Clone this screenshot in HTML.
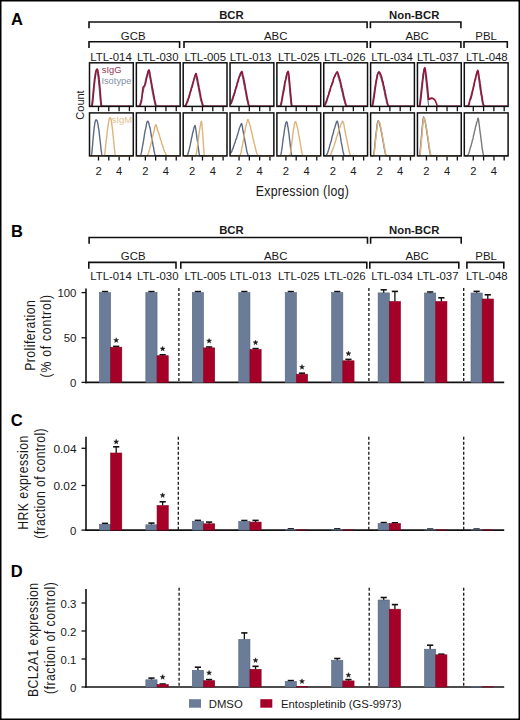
<!DOCTYPE html>
<html><head><meta charset="utf-8"><title>Figure</title>
<style>
html,body{margin:0;padding:0;background:#fff;}
body{width:520px;height:720px;overflow:hidden;}
svg{display:block;font-family:"Liberation Sans", sans-serif;}
</style></head><body>
<svg width="520" height="720" viewBox="0 0 520 720">
<rect width="520" height="720" fill="#fff"/>
<text x="11" y="25" font-size="16.5" text-anchor="start" font-weight="bold" fill="#000" >A</text>
<path d="M89 28.2V22H367.1V28.2" fill="none" stroke="#111" stroke-width="1.6"/>
<path d="M370.4 28.2V22H460.9V28.2" fill="none" stroke="#111" stroke-width="1.6"/>
<text x="231.4" y="18.7" font-size="11.3" text-anchor="middle" font-weight="bold" fill="#1a1a1a" >BCR</text>
<text x="414.2" y="18.7" font-size="11.3" text-anchor="middle" font-weight="bold" fill="#1a1a1a" >Non-BCR</text>
<path d="M89 48.1V41.8H179.6V48.1" fill="none" stroke="#111" stroke-width="1.6"/>
<text x="133.2" y="39.6" font-size="11.4" text-anchor="middle" font-weight="normal" fill="#1a1a1a" >GCB</text>
<path d="M184 48.1V41.8H367.1V48.1" fill="none" stroke="#111" stroke-width="1.6"/>
<text x="275.7" y="39.6" font-size="11.4" text-anchor="middle" font-weight="normal" fill="#1a1a1a" >ABC</text>
<path d="M370.4 48.1V41.8H460.9V48.1" fill="none" stroke="#111" stroke-width="1.6"/>
<text x="417.1" y="39.6" font-size="11.4" text-anchor="middle" font-weight="normal" fill="#1a1a1a" >ABC</text>
<path d="M464 48.1V41.8H507.3V48.1" fill="none" stroke="#111" stroke-width="1.6"/>
<text x="486.1" y="39.6" font-size="11.4" text-anchor="middle" font-weight="normal" fill="#1a1a1a" >PBL</text>
<text x="111" y="60.7" font-size="11.4" text-anchor="middle" font-weight="normal" fill="#1a1a1a" >LTL-014</text>
<text x="157.7" y="60.7" font-size="11.4" text-anchor="middle" font-weight="normal" fill="#1a1a1a" >LTL-030</text>
<text x="205.2" y="60.7" font-size="11.4" text-anchor="middle" font-weight="normal" fill="#1a1a1a" >LTL-005</text>
<text x="250.6" y="60.7" font-size="11.4" text-anchor="middle" font-weight="normal" fill="#1a1a1a" >LTL-013</text>
<text x="298.8" y="60.7" font-size="11.4" text-anchor="middle" font-weight="normal" fill="#1a1a1a" >LTL-025</text>
<text x="344.8" y="60.7" font-size="11.4" text-anchor="middle" font-weight="normal" fill="#1a1a1a" >LTL-026</text>
<text x="392" y="60.7" font-size="11.4" text-anchor="middle" font-weight="normal" fill="#1a1a1a" >LTL-034</text>
<text x="437.7" y="60.7" font-size="11.4" text-anchor="middle" font-weight="normal" fill="#1a1a1a" >LTL-037</text>
<text x="486.9" y="60.7" font-size="11.4" text-anchor="middle" font-weight="normal" fill="#1a1a1a" >LTL-048</text>
<line x1="98.5" y1="106.4" x2="98.5" y2="111.2" stroke="#111" stroke-width="1.3" />
<line x1="98.5" y1="155.9" x2="98.5" y2="160.5" stroke="#111" stroke-width="1.3" />
<line x1="108.8" y1="106.4" x2="108.8" y2="111.2" stroke="#111" stroke-width="1.3" />
<line x1="108.8" y1="155.9" x2="108.8" y2="160.5" stroke="#111" stroke-width="1.3" />
<line x1="119.1" y1="106.4" x2="119.1" y2="111.2" stroke="#111" stroke-width="1.3" />
<line x1="119.1" y1="155.9" x2="119.1" y2="160.5" stroke="#111" stroke-width="1.3" />
<line x1="129.4" y1="106.4" x2="129.4" y2="111.2" stroke="#111" stroke-width="1.3" />
<line x1="129.4" y1="155.9" x2="129.4" y2="160.5" stroke="#111" stroke-width="1.3" />
<polyline points="90.3,155.7 90.68,155.7 91.07,155.7 91.45,155.7 91.83,153.17 92.22,148.9 92.6,145 92.99,139.78 93.37,136.08 93.75,131.89 94.14,127.96 94.52,125.55 94.9,122.52 95.29,121.26 95.67,120.23 96.05,119.8 96.44,119.96 96.82,120.54 97.21,120.97 97.59,122.39 97.97,124.6 98.36,127.26 98.74,128.83 99.12,131.75 99.51,135.33 99.89,139.02 100.27,141.96 100.66,145.22 101.04,149.28 101.43,151.79 101.81,154.72 102.19,155.7 102.58,155.7 102.96,155.7 103.34,155.7 103.73,155.7 104.11,155.7 104.49,155.7 104.88,155.7 105.26,155.7 105.65,155.7 106.03,155.7 106.41,155.7 106.8,155.7 107.18,155.7 107.56,155.7 107.95,155.7 108.33,155.7 108.71,155.7 109.1,155.7 109.48,155.7 109.87,155.7 110.25,155.7 110.63,155.7 111.02,155.7 111.4,155.7 111.78,155.7 112.17,155.7 112.55,155.7 112.93,155.7 113.32,155.7 113.7,155.7 114.09,155.7 114.47,155.7 114.85,155.7 115.24,155.7 115.62,155.7 116,155.7 116.39,155.7 116.77,155.7 117.15,155.7 117.54,155.7 117.92,155.7 118.31,155.7 118.69,155.7 119.07,155.7 119.46,155.7 119.84,155.7 120.22,155.7 120.61,155.7 120.99,155.7 121.37,155.7 121.76,155.7 122.14,155.7 122.53,155.7 122.91,155.7 123.29,155.7 123.68,155.7 124.06,155.7 124.44,155.7 124.83,155.7 125.21,155.7 125.59,155.7 125.98,155.7 126.36,155.7 126.75,155.7 127.13,155.7 127.51,155.7 127.9,155.7 128.28,155.7 128.66,155.7 129.05,155.7 129.43,155.7 129.81,155.7 130.2,155.7 130.58,155.7 130.97,155.7 131.35,155.7 131.73,155.7 132.12,155.7 132.5,155.7" fill="none" stroke="#5d6a86" stroke-width="1.4" stroke-linejoin="round"/>
<polyline points="90.3,155.7 90.68,155.7 91.07,155.7 91.45,155.7 91.83,155.7 92.22,155.7 92.6,155.7 92.99,155.7 93.37,155.7 93.75,155.7 94.14,155.7 94.52,155.7 94.9,155.7 95.29,155.7 95.67,155.7 96.05,155.7 96.44,155.7 96.82,155.7 97.21,155.7 97.59,155.7 97.97,155.7 98.36,155.7 98.74,155.7 99.12,155.7 99.51,155.7 99.89,155.7 100.27,155.7 100.66,155.7 101.04,155.7 101.43,155.7 101.81,155.7 102.19,155.7 102.58,155.7 102.96,155.7 103.34,155.7 103.73,155.7 104.11,155.7 104.49,155.34 104.88,153.12 105.26,149.73 105.65,146.03 106.03,142.41 106.41,139.06 106.8,136.21 107.18,132.01 107.56,129.38 107.95,126.56 108.33,123.64 108.71,121.66 109.1,119.24 109.48,118.47 109.87,117.67 110.25,117.59 110.63,118.36 111.02,119.19 111.4,121.34 111.78,124.39 112.17,126.91 112.55,129.98 112.93,133.84 113.32,137.4 113.7,141.06 114.09,145.59 114.47,149.17 114.85,152.32 115.24,155.15 115.62,155.7 116,155.7 116.39,155.7 116.77,155.7 117.15,155.7 117.54,155.7 117.92,155.7 118.31,155.7 118.69,155.7 119.07,155.7 119.46,155.7 119.84,155.7 120.22,155.7 120.61,155.7 120.99,155.7 121.37,155.7 121.76,155.7 122.14,155.7 122.53,155.7 122.91,155.7 123.29,155.7 123.68,155.7 124.06,155.7 124.44,155.7 124.83,155.7 125.21,155.7 125.59,155.7 125.98,155.7 126.36,155.7 126.75,155.7 127.13,155.7 127.51,155.7 127.9,155.7 128.28,155.7 128.66,155.7 129.05,155.7 129.43,155.7 129.81,155.7 130.2,155.7 130.58,155.7 130.97,155.7 131.35,155.7 131.73,155.7 132.12,155.7 132.5,155.7" fill="none" stroke="#dfb47c" stroke-width="1.4" stroke-linejoin="round"/>
<polyline points="90.3,106.3 90.68,106.3 91.07,106.3 91.45,105.88 91.83,103.11 92.22,99.48 92.6,96.01 92.99,91.82 93.37,87.34 93.75,84.54 94.14,80.03 94.52,77.4 94.9,75.25 95.29,72.37 95.67,71.26 96.05,70.31 96.44,70.01 96.82,70.56 97.21,71.31 97.59,74.19 97.97,77.02 98.36,80.05 98.74,84.2 99.12,87.62 99.51,92.52 99.89,96.87 100.27,101.13 100.66,104.78 101.04,106.3 101.43,106.3 101.81,106.3 102.19,106.3 102.58,106.3 102.96,106.3 103.34,106.3 103.73,106.3 104.11,106.3 104.49,106.3 104.88,106.3 105.26,106.3 105.65,106.3 106.03,106.3 106.41,106.3 106.8,106.3 107.18,106.3 107.56,106.3 107.95,106.3 108.33,106.3 108.71,106.3 109.1,106.3 109.48,106.3 109.87,106.3 110.25,106.3 110.63,106.3 111.02,106.3 111.4,106.3 111.78,106.3 112.17,106.3 112.55,106.3 112.93,106.3 113.32,106.3 113.7,106.3 114.09,106.3 114.47,106.3 114.85,106.3 115.24,106.3 115.62,106.3 116,106.3 116.39,106.3 116.77,106.3 117.15,106.3 117.54,106.3 117.92,106.3 118.31,106.3 118.69,106.3 119.07,106.3 119.46,106.3 119.84,106.3 120.22,106.3 120.61,106.3 120.99,106.3 121.37,106.3 121.76,106.3 122.14,106.3 122.53,106.3 122.91,106.3 123.29,106.3 123.68,106.3 124.06,106.3 124.44,106.3 124.83,106.3 125.21,106.3 125.59,106.3 125.98,106.3 126.36,106.3 126.75,106.3 127.13,106.3 127.51,106.3 127.9,106.3 128.28,106.3 128.66,106.3 129.05,106.3 129.43,106.3 129.81,106.3 130.2,106.3 130.58,106.3 130.97,106.3 131.35,106.3 131.73,106.3 132.12,106.3 132.5,106.3" fill="none" stroke="#5d6a86" stroke-width="1.1" stroke-linejoin="round"/>
<polyline points="90.3,106.3 90.68,106.3 91.07,106.3 91.45,106.3 91.83,106.3 92.22,105.47 92.6,102.56 92.99,99.05 93.37,94.47 93.75,90.61 94.14,85.84 94.52,82.93 94.9,79.43 95.29,76.85 95.67,74.06 96.05,71.3 96.44,70.09 96.82,69.21 97.21,69.04 97.59,69.76 97.97,71.14 98.36,73.74 98.74,75.79 99.12,79.82 99.51,83.38 99.89,87.63 100.27,92.11 100.66,97.62 101.04,101.42 101.43,105.28 101.81,106.3 102.19,106.3 102.58,106.3 102.96,106.3 103.34,106.3 103.73,106.3 104.11,106.3 104.49,106.3 104.88,106.3 105.26,106.3 105.65,106.3 106.03,106.3 106.41,106.3 106.8,106.3 107.18,106.3 107.56,106.3 107.95,106.3 108.33,106.3 108.71,106.3 109.1,106.3 109.48,106.3 109.87,106.3 110.25,106.3 110.63,106.3 111.02,106.3 111.4,106.3 111.78,106.3 112.17,106.3 112.55,106.3 112.93,106.3 113.32,106.3 113.7,106.3 114.09,106.3 114.47,106.3 114.85,106.3 115.24,106.3 115.62,106.3 116,106.3 116.39,106.3 116.77,106.3 117.15,106.3 117.54,106.3 117.92,106.3 118.31,106.3 118.69,106.3 119.07,106.3 119.46,106.3 119.84,106.3 120.22,106.3 120.61,106.3 120.99,106.3 121.37,106.3 121.76,106.3 122.14,106.3 122.53,106.3 122.91,106.3 123.29,106.3 123.68,106.3 124.06,106.3 124.44,106.3 124.83,106.3 125.21,106.3 125.59,106.3 125.98,106.3 126.36,106.3 126.75,106.3 127.13,106.3 127.51,106.3 127.9,106.3 128.28,106.3 128.66,106.3 129.05,106.3 129.43,106.3 129.81,106.3 130.2,106.3 130.58,106.3 130.97,106.3 131.35,106.3 131.73,106.3 132.12,106.3 132.5,106.3" fill="none" stroke="#931537" stroke-width="1.6" stroke-linejoin="round"/>
<rect x="89.5" y="62.8" width="43.8" height="43.6" fill="none" stroke="#111" stroke-width="1.5"/>
<rect x="89.5" y="112.9" width="43.8" height="43" fill="none" stroke="#111" stroke-width="1.5"/>
<text x="98.5" y="175.4" font-size="11.2" text-anchor="middle" font-weight="normal" fill="#1a1a1a" >2</text>
<text x="119.1" y="175.4" font-size="11.2" text-anchor="middle" font-weight="normal" fill="#1a1a1a" >4</text>
<line x1="145.35" y1="106.4" x2="145.35" y2="111.2" stroke="#111" stroke-width="1.3" />
<line x1="145.35" y1="155.9" x2="145.35" y2="160.5" stroke="#111" stroke-width="1.3" />
<line x1="155.65" y1="106.4" x2="155.65" y2="111.2" stroke="#111" stroke-width="1.3" />
<line x1="155.65" y1="155.9" x2="155.65" y2="160.5" stroke="#111" stroke-width="1.3" />
<line x1="165.95" y1="106.4" x2="165.95" y2="111.2" stroke="#111" stroke-width="1.3" />
<line x1="165.95" y1="155.9" x2="165.95" y2="160.5" stroke="#111" stroke-width="1.3" />
<line x1="176.25" y1="106.4" x2="176.25" y2="111.2" stroke="#111" stroke-width="1.3" />
<line x1="176.25" y1="155.9" x2="176.25" y2="160.5" stroke="#111" stroke-width="1.3" />
<polyline points="137.15,155.7 137.53,155.7 137.92,155.7 138.3,155.7 138.68,155.7 139.07,155.7 139.45,155.7 139.84,155.7 140.22,155.7 140.6,155.52 140.99,154.25 141.37,152.6 141.75,151.01 142.14,148.21 142.52,146.39 142.9,144.25 143.29,142.37 143.67,139.97 144.06,137.72 144.44,134.69 144.82,132.65 145.21,130.45 145.59,129.12 145.97,127.33 146.36,124.56 146.74,123.07 147.12,121.87 147.51,121.29 147.89,121.12 148.28,121.86 148.66,122.61 149.04,124.28 149.43,125.95 149.81,127.22 150.19,128.72 150.58,131.2 150.96,133.16 151.34,135.52 151.73,138.17 152.11,140.01 152.5,141.97 152.88,144.28 153.26,146.5 153.65,147.86 154.03,150.66 154.41,152.33 154.8,153.93 155.18,155.15 155.56,155.7 155.95,155.7 156.33,155.7 156.72,155.7 157.1,155.7 157.48,155.7 157.87,155.7 158.25,155.7 158.63,155.7 159.02,155.7 159.4,155.7 159.78,155.7 160.17,155.7 160.55,155.7 160.94,155.7 161.32,155.7 161.7,155.7 162.09,155.7 162.47,155.7 162.85,155.7 163.24,155.7 163.62,155.7 164,155.7 164.39,155.7 164.77,155.7 165.16,155.7 165.54,155.7 165.92,155.7 166.31,155.7 166.69,155.7 167.07,155.7 167.46,155.7 167.84,155.7 168.22,155.7 168.61,155.7 168.99,155.7 169.38,155.7 169.76,155.7 170.14,155.7 170.53,155.7 170.91,155.7 171.29,155.7 171.68,155.7 172.06,155.7 172.44,155.7 172.83,155.7 173.21,155.7 173.6,155.7 173.98,155.7 174.36,155.7 174.75,155.7 175.13,155.7 175.51,155.7 175.9,155.7 176.28,155.7 176.66,155.7 177.05,155.7 177.43,155.7 177.82,155.7 178.2,155.7 178.58,155.7 178.97,155.7 179.35,155.7" fill="none" stroke="#5d6a86" stroke-width="1.4" stroke-linejoin="round"/>
<polyline points="137.15,155.7 137.53,155.7 137.92,155.7 138.3,155.7 138.68,155.7 139.07,155.7 139.45,155.7 139.84,155.7 140.22,155.7 140.6,155.7 140.99,155.7 141.37,155.7 141.75,155.7 142.14,155.7 142.52,155.7 142.9,155.7 143.29,155.7 143.67,155.7 144.06,155.7 144.44,155.7 144.82,155.7 145.21,155.7 145.59,155.7 145.97,155.7 146.36,155.7 146.74,155.7 147.12,155.7 147.51,155.29 147.89,154.58 148.28,153.52 148.66,152.42 149.04,150.99 149.43,150.12 149.81,148.11 150.19,146.64 150.58,145.34 150.96,143.74 151.34,142.4 151.73,140.41 152.11,138.71 152.5,137.25 152.88,135.51 153.26,134.17 153.65,132.05 154.03,131.49 154.41,129.5 154.8,127.3 155.18,125.9 155.56,124.83 155.95,124.72 156.33,125.55 156.72,126.71 157.1,127.59 157.48,129.76 157.87,131.2 158.25,131.79 158.63,133.09 159.02,133.86 159.4,135.16 159.78,136.76 160.17,137.93 160.55,139.93 160.94,140.32 161.32,141.37 161.7,143.8 162.09,144.45 162.47,145.12 162.85,146.78 163.24,147.22 163.62,148.94 164,150.41 164.39,151.23 164.77,152.01 165.16,152.66 165.54,153.55 165.92,154.26 166.31,154.98 166.69,155.48 167.07,155.7 167.46,155.7 167.84,155.7 168.22,155.7 168.61,155.7 168.99,155.7 169.38,155.7 169.76,155.7 170.14,155.7 170.53,155.7 170.91,155.7 171.29,155.7 171.68,155.7 172.06,155.7 172.44,155.7 172.83,155.7 173.21,155.7 173.6,155.7 173.98,155.7 174.36,155.7 174.75,155.7 175.13,155.7 175.51,155.7 175.9,155.7 176.28,155.7 176.66,155.7 177.05,155.7 177.43,155.7 177.82,155.7 178.2,155.7 178.58,155.7 178.97,155.7 179.35,155.7" fill="none" stroke="#dfb47c" stroke-width="1.4" stroke-linejoin="round"/>
<polyline points="137.15,106.3 137.53,106.3 137.92,106.3 138.3,106.3 138.68,106.3 139.07,106.14 139.45,105.39 139.84,104.46 140.22,103.23 140.6,102.1 140.99,100.37 141.37,98.74 141.75,97.87 142.14,96.49 142.52,94.66 142.9,92.9 143.29,91.18 143.67,89.33 144.06,86.9 144.44,85.51 144.82,83.53 145.21,81.35 145.59,79.61 145.97,78.24 146.36,76.55 146.74,75.52 147.12,74.35 147.51,72.3 147.89,71.17 148.28,70.9 148.66,72.86 149.04,74.63 149.43,76.46 149.81,77.67 150.19,79.54 150.58,81.66 150.96,83.76 151.34,85.92 151.73,88.62 152.11,91.11 152.5,93.14 152.88,94.73 153.26,96.95 153.65,99.01 154.03,100.15 154.41,102.29 154.8,103.88 155.18,105.1 155.56,106.05 155.95,106.3 156.33,106.3 156.72,106.3 157.1,106.3 157.48,106.3 157.87,106.3 158.25,106.3 158.63,106.3 159.02,106.3 159.4,106.3 159.78,106.3 160.17,106.3 160.55,106.3 160.94,106.3 161.32,106.3 161.7,106.3 162.09,106.3 162.47,106.3 162.85,106.3 163.24,106.3 163.62,106.3 164,106.3 164.39,106.3 164.77,106.3 165.16,106.3 165.54,106.3 165.92,106.3 166.31,106.3 166.69,106.3 167.07,106.3 167.46,106.3 167.84,106.3 168.22,106.3 168.61,106.3 168.99,106.3 169.38,106.3 169.76,106.3 170.14,106.3 170.53,106.3 170.91,106.3 171.29,106.3 171.68,106.3 172.06,106.3 172.44,106.3 172.83,106.3 173.21,106.3 173.6,106.3 173.98,106.3 174.36,106.3 174.75,106.3 175.13,106.3 175.51,106.3 175.9,106.3 176.28,106.3 176.66,106.3 177.05,106.3 177.43,106.3 177.82,106.3 178.2,106.3 178.58,106.3 178.97,106.3 179.35,106.3" fill="none" stroke="#5d6a86" stroke-width="1.1" stroke-linejoin="round"/>
<polyline points="137.15,106.3 137.53,106.3 137.92,106.3 138.3,106.3 138.68,106.3 139.07,106.3 139.45,106.3 139.84,106.02 140.22,105.24 140.6,104.13 140.99,102.75 141.37,101.74 141.75,99.03 142.14,94.61 142.52,91.3 142.9,88.24 143.29,86.88 143.67,86.93 144.06,86.43 144.44,85.69 144.82,85.71 145.21,84.13 145.59,83.29 145.97,81.36 146.36,78.72 146.74,77.87 147.12,76.37 147.51,74.33 147.89,72.39 148.28,71.25 148.66,70 149.04,70.12 149.43,71.15 149.81,72.78 150.19,75.97 150.58,77.61 150.96,79.57 151.34,82.28 151.73,83.83 152.11,86.62 152.5,88.77 152.88,90.16 153.26,92.37 153.65,94.53 154.03,96.5 154.41,98.89 154.8,100.46 155.18,102.32 155.56,103.79 155.95,105.22 156.33,106.17 156.72,106.3 157.1,106.3 157.48,106.3 157.87,106.3 158.25,106.3 158.63,106.3 159.02,106.3 159.4,106.3 159.78,106.3 160.17,106.3 160.55,106.3 160.94,106.3 161.32,106.3 161.7,106.3 162.09,106.3 162.47,106.3 162.85,106.3 163.24,106.3 163.62,106.3 164,106.3 164.39,106.3 164.77,106.3 165.16,106.3 165.54,106.3 165.92,106.3 166.31,106.3 166.69,106.3 167.07,106.3 167.46,106.3 167.84,106.3 168.22,106.3 168.61,106.3 168.99,106.3 169.38,106.3 169.76,106.3 170.14,106.3 170.53,106.3 170.91,106.3 171.29,106.3 171.68,106.3 172.06,106.3 172.44,106.3 172.83,106.3 173.21,106.3 173.6,106.3 173.98,106.3 174.36,106.3 174.75,106.3 175.13,106.3 175.51,106.3 175.9,106.3 176.28,106.3 176.66,106.3 177.05,106.3 177.43,106.3 177.82,106.3 178.2,106.3 178.58,106.3 178.97,106.3 179.35,106.3" fill="none" stroke="#931537" stroke-width="1.6" stroke-linejoin="round"/>
<rect x="136.35" y="62.8" width="43.8" height="43.6" fill="none" stroke="#111" stroke-width="1.5"/>
<rect x="136.35" y="112.9" width="43.8" height="43" fill="none" stroke="#111" stroke-width="1.5"/>
<text x="145.35" y="175.4" font-size="11.2" text-anchor="middle" font-weight="normal" fill="#1a1a1a" >2</text>
<text x="165.95" y="175.4" font-size="11.2" text-anchor="middle" font-weight="normal" fill="#1a1a1a" >4</text>
<line x1="192.2" y1="106.4" x2="192.2" y2="111.2" stroke="#111" stroke-width="1.3" />
<line x1="192.2" y1="155.9" x2="192.2" y2="160.5" stroke="#111" stroke-width="1.3" />
<line x1="202.5" y1="106.4" x2="202.5" y2="111.2" stroke="#111" stroke-width="1.3" />
<line x1="202.5" y1="155.9" x2="202.5" y2="160.5" stroke="#111" stroke-width="1.3" />
<line x1="212.8" y1="106.4" x2="212.8" y2="111.2" stroke="#111" stroke-width="1.3" />
<line x1="212.8" y1="155.9" x2="212.8" y2="160.5" stroke="#111" stroke-width="1.3" />
<line x1="223.1" y1="106.4" x2="223.1" y2="111.2" stroke="#111" stroke-width="1.3" />
<line x1="223.1" y1="155.9" x2="223.1" y2="160.5" stroke="#111" stroke-width="1.3" />
<polyline points="184,155.7 184.38,155.7 184.77,155.7 185.15,155.7 185.53,155.7 185.92,155.7 186.3,155.7 186.69,155.7 187.07,155.7 187.45,155.1 187.84,154.2 188.22,152.8 188.6,151.47 188.99,150.1 189.37,148.95 189.75,146.7 190.14,145.65 190.52,143.38 190.91,141.66 191.29,139.87 191.67,137.44 192.06,136.22 192.44,134.15 192.82,132.21 193.21,131.59 193.59,129.2 193.97,128.12 194.36,127.11 194.74,125.7 195.13,125.58 195.51,127.6 195.89,129.75 196.28,132.71 196.66,135.62 197.04,138.87 197.43,140.96 197.81,144.49 198.19,146.93 198.58,149.71 198.96,152.52 199.35,154.41 199.73,155.7 200.11,155.7 200.5,155.7 200.88,155.7 201.26,155.7 201.65,155.7 202.03,155.7 202.41,155.7 202.8,155.7 203.18,155.7 203.57,155.7 203.95,155.7 204.33,155.7 204.72,155.7 205.1,155.7 205.48,155.7 205.87,155.7 206.25,155.7 206.63,155.7 207.02,155.7 207.4,155.7 207.79,155.7 208.17,155.7 208.55,155.7 208.94,155.7 209.32,155.7 209.7,155.7 210.09,155.7 210.47,155.7 210.85,155.7 211.24,155.7 211.62,155.7 212.01,155.7 212.39,155.7 212.77,155.7 213.16,155.7 213.54,155.7 213.92,155.7 214.31,155.7 214.69,155.7 215.07,155.7 215.46,155.7 215.84,155.7 216.23,155.7 216.61,155.7 216.99,155.7 217.38,155.7 217.76,155.7 218.14,155.7 218.53,155.7 218.91,155.7 219.29,155.7 219.68,155.7 220.06,155.7 220.45,155.7 220.83,155.7 221.21,155.7 221.6,155.7 221.98,155.7 222.36,155.7 222.75,155.7 223.13,155.7 223.51,155.7 223.9,155.7 224.28,155.7 224.67,155.7 225.05,155.7 225.43,155.7 225.82,155.7 226.2,155.7" fill="none" stroke="#5d6a86" stroke-width="1.4" stroke-linejoin="round"/>
<polyline points="184,155.7 184.38,155.7 184.77,155.7 185.15,155.7 185.53,155.7 185.92,155.7 186.3,155.7 186.69,155.7 187.07,155.7 187.45,155.7 187.84,155.7 188.22,155.7 188.6,155.7 188.99,155.7 189.37,155.7 189.75,155.7 190.14,155.7 190.52,155.7 190.91,155.7 191.29,155.7 191.67,155.7 192.06,155.7 192.44,155.7 192.82,155.7 193.21,155.7 193.59,155.7 193.97,155.7 194.36,155.7 194.74,155.7 195.13,155.7 195.51,155.7 195.89,155.45 196.28,153.78 196.66,151.65 197.04,149.32 197.43,146.03 197.81,143.35 198.19,140.27 198.58,137.34 198.96,134.7 199.35,131.62 199.73,129.11 200.11,126.63 200.5,125.09 200.88,122.98 201.26,121.41 201.65,121.57 202.03,125.31 202.41,130.03 202.8,134.57 203.18,140.79 203.57,147.11 203.95,152.06 204.33,155.61 204.72,155.7 205.1,155.7 205.48,155.7 205.87,155.7 206.25,155.7 206.63,155.7 207.02,155.7 207.4,155.7 207.79,155.7 208.17,155.7 208.55,155.7 208.94,155.7 209.32,155.7 209.7,155.7 210.09,155.7 210.47,155.7 210.85,155.7 211.24,155.7 211.62,155.7 212.01,155.7 212.39,155.7 212.77,155.7 213.16,155.7 213.54,155.7 213.92,155.7 214.31,155.7 214.69,155.7 215.07,155.7 215.46,155.7 215.84,155.7 216.23,155.7 216.61,155.7 216.99,155.7 217.38,155.7 217.76,155.7 218.14,155.7 218.53,155.7 218.91,155.7 219.29,155.7 219.68,155.7 220.06,155.7 220.45,155.7 220.83,155.7 221.21,155.7 221.6,155.7 221.98,155.7 222.36,155.7 222.75,155.7 223.13,155.7 223.51,155.7 223.9,155.7 224.28,155.7 224.67,155.7 225.05,155.7 225.43,155.7 225.82,155.7 226.2,155.7" fill="none" stroke="#dfb47c" stroke-width="1.4" stroke-linejoin="round"/>
<polyline points="184,106.3 184.38,106.3 184.77,105.96 185.15,105.39 185.53,104.59 185.92,103.73 186.3,102.97 186.69,101.76 187.07,100.82 187.45,99.54 187.84,99.08 188.22,98.1 188.6,97.06 188.99,94.88 189.37,94.37 189.75,93.03 190.14,91.07 190.52,90.72 190.91,89.51 191.29,87.21 191.67,86.82 192.06,84.75 192.44,83.51 192.82,82.82 193.21,81.28 193.59,79.09 193.97,78.14 194.36,76.99 194.74,75.55 195.13,74.65 195.51,74.36 195.89,75.6 196.28,77.6 196.66,80.06 197.04,81.13 197.43,83.83 197.81,85.7 198.19,87.15 198.58,89.54 198.96,91.88 199.35,93.64 199.73,94.92 200.11,97.91 200.5,99.34 200.88,101.06 201.26,101.88 201.65,103.42 202.03,104.63 202.41,105.74 202.8,106.3 203.18,106.3 203.57,106.3 203.95,106.3 204.33,106.3 204.72,106.3 205.1,106.3 205.48,106.3 205.87,106.3 206.25,106.3 206.63,106.3 207.02,106.3 207.4,106.3 207.79,106.3 208.17,106.3 208.55,106.3 208.94,106.3 209.32,106.3 209.7,106.3 210.09,106.3 210.47,106.3 210.85,106.3 211.24,106.3 211.62,106.3 212.01,106.3 212.39,106.3 212.77,106.3 213.16,106.3 213.54,106.3 213.92,106.3 214.31,106.3 214.69,106.3 215.07,106.3 215.46,106.3 215.84,106.3 216.23,106.3 216.61,106.3 216.99,106.3 217.38,106.3 217.76,106.3 218.14,106.3 218.53,106.3 218.91,106.3 219.29,106.3 219.68,106.3 220.06,106.3 220.45,106.3 220.83,106.3 221.21,106.3 221.6,106.3 221.98,106.3 222.36,106.3 222.75,106.3 223.13,106.3 223.51,106.3 223.9,106.3 224.28,106.3 224.67,106.3 225.05,106.3 225.43,106.3 225.82,106.3 226.2,106.3" fill="none" stroke="#5d6a86" stroke-width="1.1" stroke-linejoin="round"/>
<polyline points="184,106.3 184.38,106.3 184.77,106.3 185.15,106.28 185.53,105.86 185.92,105.29 186.3,104.43 186.69,103.5 187.07,102.69 187.45,102.03 187.84,100.97 188.22,99.33 188.6,98.01 188.99,97.8 189.37,96.12 189.75,95.03 190.14,92.95 190.52,91.6 190.91,91.09 191.29,89.39 191.67,87.57 192.06,87.32 192.44,85.54 192.82,84.36 193.21,82.04 193.59,81.66 193.97,79.26 194.36,78.93 194.74,77.07 195.13,75.63 195.51,74.67 195.89,73.48 196.28,73.64 196.66,75.94 197.04,77 197.43,78.82 197.81,81.39 198.19,83.09 198.58,84.99 198.96,87.13 199.35,89.02 199.73,91.23 200.11,93.33 200.5,95.23 200.88,97.66 201.26,98.84 201.65,100.73 202.03,102.07 202.41,103.61 202.8,104.79 203.18,105.87 203.57,106.3 203.95,106.3 204.33,106.3 204.72,106.3 205.1,106.3 205.48,106.3 205.87,106.3 206.25,106.3 206.63,106.3 207.02,106.3 207.4,106.3 207.79,106.3 208.17,106.3 208.55,106.3 208.94,106.3 209.32,106.3 209.7,106.3 210.09,106.3 210.47,106.3 210.85,106.3 211.24,106.3 211.62,106.3 212.01,106.3 212.39,106.3 212.77,106.3 213.16,106.3 213.54,106.3 213.92,106.3 214.31,106.3 214.69,106.3 215.07,106.3 215.46,106.3 215.84,106.3 216.23,106.3 216.61,106.3 216.99,106.3 217.38,106.3 217.76,106.3 218.14,106.3 218.53,106.3 218.91,106.3 219.29,106.3 219.68,106.3 220.06,106.3 220.45,106.3 220.83,106.3 221.21,106.3 221.6,106.3 221.98,106.3 222.36,106.3 222.75,106.3 223.13,106.3 223.51,106.3 223.9,106.3 224.28,106.3 224.67,106.3 225.05,106.3 225.43,106.3 225.82,106.3 226.2,106.3" fill="none" stroke="#931537" stroke-width="1.6" stroke-linejoin="round"/>
<rect x="183.2" y="62.8" width="43.8" height="43.6" fill="none" stroke="#111" stroke-width="1.5"/>
<rect x="183.2" y="112.9" width="43.8" height="43" fill="none" stroke="#111" stroke-width="1.5"/>
<text x="192.2" y="175.4" font-size="11.2" text-anchor="middle" font-weight="normal" fill="#1a1a1a" >2</text>
<text x="212.8" y="175.4" font-size="11.2" text-anchor="middle" font-weight="normal" fill="#1a1a1a" >4</text>
<line x1="239.05" y1="106.4" x2="239.05" y2="111.2" stroke="#111" stroke-width="1.3" />
<line x1="239.05" y1="155.9" x2="239.05" y2="160.5" stroke="#111" stroke-width="1.3" />
<line x1="249.35" y1="106.4" x2="249.35" y2="111.2" stroke="#111" stroke-width="1.3" />
<line x1="249.35" y1="155.9" x2="249.35" y2="160.5" stroke="#111" stroke-width="1.3" />
<line x1="259.65" y1="106.4" x2="259.65" y2="111.2" stroke="#111" stroke-width="1.3" />
<line x1="259.65" y1="155.9" x2="259.65" y2="160.5" stroke="#111" stroke-width="1.3" />
<line x1="269.95" y1="106.4" x2="269.95" y2="111.2" stroke="#111" stroke-width="1.3" />
<line x1="269.95" y1="155.9" x2="269.95" y2="160.5" stroke="#111" stroke-width="1.3" />
<polyline points="230.85,153.22 231.23,152.25 231.62,151.78 232,150.75 232.38,149.45 232.77,148.72 233.15,148.27 233.54,146.14 233.92,145.97 234.3,144.36 234.69,143.3 235.07,142.59 235.45,140.85 235.84,139.82 236.22,138.87 236.6,138.06 236.99,136.03 237.37,135.47 237.76,134.11 238.14,132.83 238.52,131.34 238.91,130.1 239.29,128.57 239.67,127.54 240.06,126.38 240.44,126.2 240.82,124.58 241.21,124.01 241.59,123.5 241.98,124.57 242.36,126.31 242.74,129.28 243.13,131.4 243.51,133.27 243.89,134.93 244.28,137.04 244.66,139.26 245.04,141.6 245.43,143.29 245.81,145.68 246.2,147.39 246.58,150 246.96,151.6 247.35,152.86 247.73,154.14 248.11,155.28 248.5,155.7 248.88,155.7 249.26,155.7 249.65,155.7 250.03,155.7 250.42,155.7 250.8,155.7 251.18,155.7 251.57,155.7 251.95,155.7 252.33,155.7 252.72,155.7 253.1,155.7 253.48,155.7 253.87,155.7 254.25,155.7 254.64,155.7 255.02,155.7 255.4,155.7 255.79,155.7 256.17,155.7 256.55,155.7 256.94,155.7 257.32,155.7 257.7,155.7 258.09,155.7 258.47,155.7 258.86,155.7 259.24,155.7 259.62,155.7 260.01,155.7 260.39,155.7 260.77,155.7 261.16,155.7 261.54,155.7 261.92,155.7 262.31,155.7 262.69,155.7 263.08,155.7 263.46,155.7 263.84,155.7 264.23,155.7 264.61,155.7 264.99,155.7 265.38,155.7 265.76,155.7 266.14,155.7 266.53,155.7 266.91,155.7 267.3,155.7 267.68,155.7 268.06,155.7 268.45,155.7 268.83,155.7 269.21,155.7 269.6,155.7 269.98,155.7 270.36,155.7 270.75,155.7 271.13,155.7 271.52,155.7 271.9,155.7 272.28,155.7 272.67,155.7 273.05,155.7" fill="none" stroke="#5d6a86" stroke-width="1.4" stroke-linejoin="round"/>
<polyline points="230.85,155.7 231.23,155.7 231.62,155.7 232,155.7 232.38,155.7 232.77,155.7 233.15,155.7 233.54,155.7 233.92,155.7 234.3,155.7 234.69,155.7 235.07,155.7 235.45,155.7 235.84,155.7 236.22,155.7 236.6,155.7 236.99,155.7 237.37,155.7 237.76,155.7 238.14,155.7 238.52,155.7 238.91,155.7 239.29,155.7 239.67,155.7 240.06,155.53 240.44,154.6 240.82,153.08 241.21,151.47 241.59,149.37 241.98,147.78 242.36,145.9 242.74,143.88 243.13,141.39 243.51,139.66 243.89,136.86 244.28,135.05 244.66,132.7 245.04,131 245.43,128.49 245.81,126.49 246.2,124.96 246.58,123.1 246.96,121.94 247.35,120.47 247.73,119.38 248.11,119.57 248.5,120.77 248.88,121.72 249.26,123.02 249.65,124.55 250.03,125.33 250.42,126.73 250.8,129.12 251.18,129.62 251.57,131.98 251.95,133.52 252.33,134.41 252.72,137.12 253.1,138.87 253.48,140.2 253.87,142.01 254.25,143.76 254.64,144.5 255.02,146.58 255.4,148.09 255.79,149.86 256.17,151.18 256.55,152.44 256.94,153.51 257.32,154.6 257.7,155.36 258.09,155.7 258.47,155.7 258.86,155.7 259.24,155.7 259.62,155.7 260.01,155.7 260.39,155.7 260.77,155.7 261.16,155.7 261.54,155.7 261.92,155.7 262.31,155.7 262.69,155.7 263.08,155.7 263.46,155.7 263.84,155.7 264.23,155.7 264.61,155.7 264.99,155.7 265.38,155.7 265.76,155.7 266.14,155.7 266.53,155.7 266.91,155.7 267.3,155.7 267.68,155.7 268.06,155.7 268.45,155.7 268.83,155.7 269.21,155.7 269.6,155.7 269.98,155.7 270.36,155.7 270.75,155.7 271.13,155.7 271.52,155.7 271.9,155.7 272.28,155.7 272.67,155.7 273.05,155.7" fill="none" stroke="#dfb47c" stroke-width="1.4" stroke-linejoin="round"/>
<polyline points="230.85,102.63 231.23,101.66 231.62,100.22 232,98.86 232.38,97.77 232.77,96.87 233.15,95.33 233.54,95.06 233.92,93.46 234.3,92.3 234.69,91.03 235.07,89.83 235.45,88.3 235.84,86.39 236.22,86.15 236.6,84.82 236.99,83.25 237.37,82.05 237.76,80.99 238.14,79.03 238.52,78.74 238.91,76.98 239.29,75.66 239.67,74.88 240.06,74.53 240.44,72.98 240.82,72.62 241.21,72.28 241.59,73.69 241.98,75.46 242.36,76.49 242.74,78.15 243.13,80.18 243.51,82.41 243.89,84.55 244.28,86.41 244.66,88.51 245.04,89.85 245.43,91.99 245.81,94.15 246.2,96.77 246.58,98.12 246.96,100.25 247.35,101.57 247.73,103.27 248.11,104.78 248.5,105.91 248.88,106.3 249.26,106.3 249.65,106.3 250.03,106.3 250.42,106.3 250.8,106.3 251.18,106.3 251.57,106.3 251.95,106.3 252.33,106.3 252.72,106.3 253.1,106.3 253.48,106.3 253.87,106.3 254.25,106.3 254.64,106.3 255.02,106.3 255.4,106.3 255.79,106.3 256.17,106.3 256.55,106.3 256.94,106.3 257.32,106.3 257.7,106.3 258.09,106.3 258.47,106.3 258.86,106.3 259.24,106.3 259.62,106.3 260.01,106.3 260.39,106.3 260.77,106.3 261.16,106.3 261.54,106.3 261.92,106.3 262.31,106.3 262.69,106.3 263.08,106.3 263.46,106.3 263.84,106.3 264.23,106.3 264.61,106.3 264.99,106.3 265.38,106.3 265.76,106.3 266.14,106.3 266.53,106.3 266.91,106.3 267.3,106.3 267.68,106.3 268.06,106.3 268.45,106.3 268.83,106.3 269.21,106.3 269.6,106.3 269.98,106.3 270.36,106.3 270.75,106.3 271.13,106.3 271.52,106.3 271.9,106.3 272.28,106.3 272.67,106.3 273.05,106.3" fill="none" stroke="#5d6a86" stroke-width="1.1" stroke-linejoin="round"/>
<polyline points="230.85,104.18 231.23,103.31 231.62,102.34 232,101.03 232.38,100.11 232.77,98.91 233.15,97.73 233.54,96.07 233.92,95.83 234.3,93.67 234.69,93.4 235.07,92.06 235.45,89.56 235.84,88.82 236.22,87.97 236.6,86.85 236.99,84.87 237.37,83.33 237.76,81.97 238.14,81.65 238.52,79.45 238.91,78.7 239.29,76.94 239.67,76.28 240.06,75.73 240.44,73.62 240.82,73.54 241.21,72.25 241.59,71.52 241.98,71.44 242.36,72.67 242.74,74.71 243.13,76.21 243.51,77.47 243.89,80.31 244.28,81.81 244.66,83.3 245.04,85.39 245.43,88.16 245.81,90.24 246.2,92.15 246.58,94.02 246.96,96.31 247.35,98.25 247.73,100.62 248.11,101.75 248.5,103.74 248.88,105.07 249.26,106.04 249.65,106.3 250.03,106.3 250.42,106.3 250.8,106.3 251.18,106.3 251.57,106.3 251.95,106.3 252.33,106.3 252.72,106.3 253.1,106.3 253.48,106.3 253.87,106.3 254.25,106.3 254.64,106.3 255.02,106.3 255.4,106.3 255.79,106.3 256.17,106.3 256.55,106.3 256.94,106.3 257.32,106.3 257.7,106.3 258.09,106.3 258.47,106.3 258.86,106.3 259.24,106.3 259.62,106.3 260.01,106.3 260.39,106.3 260.77,106.3 261.16,106.3 261.54,106.3 261.92,106.3 262.31,106.3 262.69,106.3 263.08,106.3 263.46,106.3 263.84,106.3 264.23,106.3 264.61,106.3 264.99,106.3 265.38,106.3 265.76,106.3 266.14,106.3 266.53,106.3 266.91,106.3 267.3,106.3 267.68,106.3 268.06,106.3 268.45,106.3 268.83,106.3 269.21,106.3 269.6,106.3 269.98,106.3 270.36,106.3 270.75,106.3 271.13,106.3 271.52,106.3 271.9,106.3 272.28,106.3 272.67,106.3 273.05,106.3" fill="none" stroke="#931537" stroke-width="1.6" stroke-linejoin="round"/>
<rect x="230.05" y="62.8" width="43.8" height="43.6" fill="none" stroke="#111" stroke-width="1.5"/>
<rect x="230.05" y="112.9" width="43.8" height="43" fill="none" stroke="#111" stroke-width="1.5"/>
<text x="239.05" y="175.4" font-size="11.2" text-anchor="middle" font-weight="normal" fill="#1a1a1a" >2</text>
<text x="259.65" y="175.4" font-size="11.2" text-anchor="middle" font-weight="normal" fill="#1a1a1a" >4</text>
<line x1="285.9" y1="106.4" x2="285.9" y2="111.2" stroke="#111" stroke-width="1.3" />
<line x1="285.9" y1="155.9" x2="285.9" y2="160.5" stroke="#111" stroke-width="1.3" />
<line x1="296.2" y1="106.4" x2="296.2" y2="111.2" stroke="#111" stroke-width="1.3" />
<line x1="296.2" y1="155.9" x2="296.2" y2="160.5" stroke="#111" stroke-width="1.3" />
<line x1="306.5" y1="106.4" x2="306.5" y2="111.2" stroke="#111" stroke-width="1.3" />
<line x1="306.5" y1="155.9" x2="306.5" y2="160.5" stroke="#111" stroke-width="1.3" />
<line x1="316.8" y1="106.4" x2="316.8" y2="111.2" stroke="#111" stroke-width="1.3" />
<line x1="316.8" y1="155.9" x2="316.8" y2="160.5" stroke="#111" stroke-width="1.3" />
<polyline points="277.7,155.7 278.08,155.7 278.47,155.7 278.85,155.7 279.23,155.7 279.62,155.7 280,155.7 280.39,155.7 280.77,155.08 281.15,153.06 281.54,151.18 281.92,148.51 282.3,146.04 282.69,142.43 283.07,139.71 283.45,136.95 283.84,135.04 284.22,131.93 284.61,129.22 284.99,127.11 285.37,124.97 285.76,123.04 286.14,122.37 286.52,121.64 286.91,122.12 287.29,122.97 287.67,125.84 288.06,127.45 288.44,130.96 288.83,132.99 289.21,136.13 289.59,139.69 289.98,142.58 290.36,146.11 290.74,149.87 291.13,152.53 291.51,154.72 291.89,155.7 292.28,155.7 292.66,155.7 293.05,155.7 293.43,155.7 293.81,155.7 294.2,155.7 294.58,155.7 294.96,155.7 295.35,155.7 295.73,155.7 296.11,155.7 296.5,155.7 296.88,155.7 297.27,155.7 297.65,155.7 298.03,155.7 298.42,155.7 298.8,155.7 299.18,155.7 299.57,155.7 299.95,155.7 300.33,155.7 300.72,155.7 301.1,155.7 301.49,155.7 301.87,155.7 302.25,155.7 302.64,155.7 303.02,155.7 303.4,155.7 303.79,155.7 304.17,155.7 304.55,155.7 304.94,155.7 305.32,155.7 305.71,155.7 306.09,155.7 306.47,155.7 306.86,155.7 307.24,155.7 307.62,155.7 308.01,155.7 308.39,155.7 308.77,155.7 309.16,155.7 309.54,155.7 309.93,155.7 310.31,155.7 310.69,155.7 311.08,155.7 311.46,155.7 311.84,155.7 312.23,155.7 312.61,155.7 312.99,155.7 313.38,155.7 313.76,155.7 314.15,155.7 314.53,155.7 314.91,155.7 315.3,155.7 315.68,155.7 316.06,155.7 316.45,155.7 316.83,155.7 317.21,155.7 317.6,155.7 317.98,155.7 318.37,155.7 318.75,155.7 319.13,155.7 319.52,155.7 319.9,155.7" fill="none" stroke="#5d6a86" stroke-width="1.4" stroke-linejoin="round"/>
<polyline points="277.7,155.7 278.08,155.7 278.47,155.7 278.85,155.7 279.23,155.7 279.62,155.7 280,155.7 280.39,155.7 280.77,155.7 281.15,155.7 281.54,155.7 281.92,155.7 282.3,155.7 282.69,155.7 283.07,155.7 283.45,155.7 283.84,155.7 284.22,155.7 284.61,155.7 284.99,155.7 285.37,155.7 285.76,155.7 286.14,155.7 286.52,155.7 286.91,155.7 287.29,155.7 287.67,155.7 288.06,155.7 288.44,155.7 288.83,155.7 289.21,155.7 289.59,155.7 289.98,155.56 290.36,153.83 290.74,151.28 291.13,148.76 291.51,145.78 291.89,142.1 292.28,139.16 292.66,135.19 293.05,133.12 293.43,129.98 293.81,127.85 294.2,125.5 294.58,123.21 294.96,122.16 295.35,121.61 295.73,122.1 296.11,122.38 296.5,124.68 296.88,125.02 297.27,127.05 297.65,128.64 298.03,130.47 298.42,133.06 298.8,135.48 299.18,136.75 299.57,139.51 299.95,141.33 300.33,143.95 300.72,146.01 301.1,147.98 301.49,150.2 301.87,152.28 302.25,154.24 302.64,155.44 303.02,155.7 303.4,155.7 303.79,155.7 304.17,155.7 304.55,155.7 304.94,155.7 305.32,155.7 305.71,155.7 306.09,155.7 306.47,155.7 306.86,155.7 307.24,155.7 307.62,155.7 308.01,155.7 308.39,155.7 308.77,155.7 309.16,155.7 309.54,155.7 309.93,155.7 310.31,155.7 310.69,155.7 311.08,155.7 311.46,155.7 311.84,155.7 312.23,155.7 312.61,155.7 312.99,155.7 313.38,155.7 313.76,155.7 314.15,155.7 314.53,155.7 314.91,155.7 315.3,155.7 315.68,155.7 316.06,155.7 316.45,155.7 316.83,155.7 317.21,155.7 317.6,155.7 317.98,155.7 318.37,155.7 318.75,155.7 319.13,155.7 319.52,155.7 319.9,155.7" fill="none" stroke="#dfb47c" stroke-width="1.4" stroke-linejoin="round"/>
<polyline points="277.7,106.3 278.08,106.3 278.47,106.3 278.85,106.3 279.23,106.3 279.62,106.3 280,105.94 280.39,104.71 280.77,103.01 281.15,101.67 281.54,99.95 281.92,97.33 282.3,94.83 282.69,92.77 283.07,90.48 283.45,88.66 283.84,86.22 284.22,84.34 284.61,82.36 284.99,80.84 285.37,79.43 285.76,77.56 286.14,75.58 286.52,74.22 286.91,73.22 287.29,72.41 287.67,72.68 288.06,74.95 288.44,77.92 288.83,81.62 289.21,85.4 289.59,90.05 289.98,95.37 290.36,98.62 290.74,102.91 291.13,105.86 291.51,106.3 291.89,106.3 292.28,106.3 292.66,106.3 293.05,106.3 293.43,106.3 293.81,106.3 294.2,106.3 294.58,106.3 294.96,106.3 295.35,106.3 295.73,106.3 296.11,106.3 296.5,106.3 296.88,106.3 297.27,106.3 297.65,106.3 298.03,106.3 298.42,106.3 298.8,106.3 299.18,106.3 299.57,106.3 299.95,106.3 300.33,106.3 300.72,106.3 301.1,106.3 301.49,106.3 301.87,106.3 302.25,106.3 302.64,106.3 303.02,106.3 303.4,106.3 303.79,106.3 304.17,106.3 304.55,106.3 304.94,106.3 305.32,106.3 305.71,106.3 306.09,106.3 306.47,106.3 306.86,106.3 307.24,106.3 307.62,106.3 308.01,106.3 308.39,106.3 308.77,106.3 309.16,106.3 309.54,106.3 309.93,106.3 310.31,106.3 310.69,106.3 311.08,106.3 311.46,106.3 311.84,106.3 312.23,106.3 312.61,106.3 312.99,106.3 313.38,106.3 313.76,106.3 314.15,106.3 314.53,106.3 314.91,106.3 315.3,106.3 315.68,106.3 316.06,106.3 316.45,106.3 316.83,106.3 317.21,106.3 317.6,106.3 317.98,106.3 318.37,106.3 318.75,106.3 319.13,106.3 319.52,106.3 319.9,106.3" fill="none" stroke="#5d6a86" stroke-width="1.1" stroke-linejoin="round"/>
<polyline points="277.7,106.3 278.08,106.3 278.47,106.3 278.85,106.3 279.23,106.3 279.62,106.3 280,106.3 280.39,106.3 280.77,105.74 281.15,104.44 281.54,102.93 281.92,100.65 282.3,98.62 282.69,96.44 283.07,94.47 283.45,92.32 283.84,90.77 284.22,88.43 284.61,86.28 284.99,83.05 285.37,81.01 285.76,79.93 286.14,78.32 286.52,76.05 286.91,74.65 287.29,72.53 287.67,72.07 288.06,71.32 288.44,72.01 288.83,74.37 289.21,78.44 289.59,82.26 289.98,86.61 290.36,91.28 290.74,94.88 291.13,99.17 291.51,103.29 291.89,106.17 292.28,106.3 292.66,106.3 293.05,106.3 293.43,106.3 293.81,106.3 294.2,106.3 294.58,106.3 294.96,106.3 295.35,106.3 295.73,106.3 296.11,106.3 296.5,106.3 296.88,106.3 297.27,106.3 297.65,106.3 298.03,106.3 298.42,106.3 298.8,106.3 299.18,106.3 299.57,106.3 299.95,106.3 300.33,106.3 300.72,106.3 301.1,106.3 301.49,106.3 301.87,106.3 302.25,106.3 302.64,106.3 303.02,106.3 303.4,106.3 303.79,106.3 304.17,106.3 304.55,106.3 304.94,106.3 305.32,106.3 305.71,106.3 306.09,106.3 306.47,106.3 306.86,106.3 307.24,106.3 307.62,106.3 308.01,106.3 308.39,106.3 308.77,106.3 309.16,106.3 309.54,106.3 309.93,106.3 310.31,106.3 310.69,106.3 311.08,106.3 311.46,106.3 311.84,106.3 312.23,106.3 312.61,106.3 312.99,106.3 313.38,106.3 313.76,106.3 314.15,106.3 314.53,106.3 314.91,106.3 315.3,106.3 315.68,106.3 316.06,106.3 316.45,106.3 316.83,106.3 317.21,106.3 317.6,106.3 317.98,106.3 318.37,106.3 318.75,106.3 319.13,106.3 319.52,106.3 319.9,106.3" fill="none" stroke="#931537" stroke-width="1.6" stroke-linejoin="round"/>
<rect x="276.9" y="62.8" width="43.8" height="43.6" fill="none" stroke="#111" stroke-width="1.5"/>
<rect x="276.9" y="112.9" width="43.8" height="43" fill="none" stroke="#111" stroke-width="1.5"/>
<text x="285.9" y="175.4" font-size="11.2" text-anchor="middle" font-weight="normal" fill="#1a1a1a" >2</text>
<text x="306.5" y="175.4" font-size="11.2" text-anchor="middle" font-weight="normal" fill="#1a1a1a" >4</text>
<line x1="332.75" y1="106.4" x2="332.75" y2="111.2" stroke="#111" stroke-width="1.3" />
<line x1="332.75" y1="155.9" x2="332.75" y2="160.5" stroke="#111" stroke-width="1.3" />
<line x1="343.05" y1="106.4" x2="343.05" y2="111.2" stroke="#111" stroke-width="1.3" />
<line x1="343.05" y1="155.9" x2="343.05" y2="160.5" stroke="#111" stroke-width="1.3" />
<line x1="353.35" y1="106.4" x2="353.35" y2="111.2" stroke="#111" stroke-width="1.3" />
<line x1="353.35" y1="155.9" x2="353.35" y2="160.5" stroke="#111" stroke-width="1.3" />
<line x1="363.65" y1="106.4" x2="363.65" y2="111.2" stroke="#111" stroke-width="1.3" />
<line x1="363.65" y1="155.9" x2="363.65" y2="160.5" stroke="#111" stroke-width="1.3" />
<polyline points="324.55,155.7 324.93,155.7 325.32,155.7 325.7,155.7 326.08,155.67 326.47,155.17 326.85,154.43 327.24,153.6 327.62,152.76 328,151.61 328.39,150.44 328.77,149.38 329.15,147.81 329.54,146.62 329.92,144.62 330.3,144.23 330.69,142.13 331.07,141.62 331.46,139.84 331.84,137.98 332.22,136.32 332.61,135.06 332.99,134.14 333.37,132.81 333.76,130.66 334.14,129.24 334.52,128.5 334.91,127.27 335.29,125.77 335.68,124.36 336.06,123.73 336.44,121.94 336.83,121.68 337.21,121.03 337.59,121.95 337.98,123.26 338.36,125.27 338.74,127.9 339.13,129.58 339.51,132.07 339.9,133.77 340.28,135.72 340.66,138.01 341.05,141.2 341.43,143.1 341.81,144.78 342.2,146.53 342.58,149.17 342.96,151.18 343.35,152.75 343.73,154.23 344.12,155.42 344.5,155.7 344.88,155.7 345.27,155.7 345.65,155.7 346.03,155.7 346.42,155.7 346.8,155.7 347.18,155.7 347.57,155.7 347.95,155.7 348.34,155.7 348.72,155.7 349.1,155.7 349.49,155.7 349.87,155.7 350.25,155.7 350.64,155.7 351.02,155.7 351.4,155.7 351.79,155.7 352.17,155.7 352.56,155.7 352.94,155.7 353.32,155.7 353.71,155.7 354.09,155.7 354.47,155.7 354.86,155.7 355.24,155.7 355.62,155.7 356.01,155.7 356.39,155.7 356.78,155.7 357.16,155.7 357.54,155.7 357.93,155.7 358.31,155.7 358.69,155.7 359.08,155.7 359.46,155.7 359.84,155.7 360.23,155.7 360.61,155.7 361,155.7 361.38,155.7 361.76,155.7 362.15,155.7 362.53,155.7 362.91,155.7 363.3,155.7 363.68,155.7 364.06,155.7 364.45,155.7 364.83,155.7 365.22,155.7 365.6,155.7 365.98,155.7 366.37,155.7 366.75,155.7" fill="none" stroke="#5d6a86" stroke-width="1.4" stroke-linejoin="round"/>
<polyline points="324.55,155.7 324.93,155.7 325.32,155.7 325.7,155.7 326.08,155.7 326.47,155.7 326.85,155.7 327.24,155.7 327.62,155.7 328,155.7 328.39,155.7 328.77,155.7 329.15,155.7 329.54,155.7 329.92,155.5 330.3,154.98 330.69,154.34 331.07,153.67 331.46,152.55 331.84,151.48 332.22,150.66 332.61,149.69 332.99,148.89 333.37,147.23 333.76,146.85 334.14,145.63 334.52,144.15 334.91,142.56 335.29,142.35 335.68,140.28 336.06,139.71 336.44,137.71 336.83,136.47 337.21,135.93 337.59,134.1 337.98,133.74 338.36,131.94 338.74,130.34 339.13,129.21 339.51,128.31 339.9,127.51 340.28,126.79 340.66,124.7 341.05,124.02 341.43,122.85 341.81,122.98 342.2,121.62 342.58,121.05 342.96,121.72 343.35,122.55 343.73,123.95 344.12,125.63 344.5,127.84 344.88,130.36 345.27,132.25 345.65,134.01 346.03,136.34 346.42,138.24 346.8,139.45 347.18,141.24 347.57,144.16 347.95,145.82 348.34,146.76 348.72,149.28 349.1,150.7 349.49,152.27 349.87,153.67 350.25,154.89 350.64,155.67 351.02,155.7 351.4,155.7 351.79,155.7 352.17,155.7 352.56,155.7 352.94,155.7 353.32,155.7 353.71,155.7 354.09,155.7 354.47,155.7 354.86,155.7 355.24,155.7 355.62,155.7 356.01,155.7 356.39,155.7 356.78,155.7 357.16,155.7 357.54,155.7 357.93,155.7 358.31,155.7 358.69,155.7 359.08,155.7 359.46,155.7 359.84,155.7 360.23,155.7 360.61,155.7 361,155.7 361.38,155.7 361.76,155.7 362.15,155.7 362.53,155.7 362.91,155.7 363.3,155.7 363.68,155.7 364.06,155.7 364.45,155.7 364.83,155.7 365.22,155.7 365.6,155.7 365.98,155.7 366.37,155.7 366.75,155.7" fill="none" stroke="#dfb47c" stroke-width="1.4" stroke-linejoin="round"/>
<polyline points="324.55,104.39 324.93,103.43 325.32,102.6 325.7,101.65 326.08,101.13 326.47,99.29 326.85,99.14 327.24,97.08 327.62,96.13 328,95.57 328.39,94.39 328.77,92.7 329.15,91 329.54,90.36 329.92,89.03 330.3,88.55 330.69,86.42 331.07,85.46 331.46,84.99 331.84,82.72 332.22,82.09 332.61,81.52 332.99,80.39 333.37,78.41 333.76,77.4 334.14,76.48 334.52,76.7 334.91,74.99 335.29,74.85 335.68,74.36 336.06,73.27 336.44,72.86 336.83,73.13 337.21,73.7 337.59,74.59 337.98,76.62 338.36,77.42 338.74,78.3 339.13,80.31 339.51,81.27 339.9,82.76 340.28,83.98 340.66,86.57 341.05,88.41 341.43,89.69 341.81,91.74 342.2,92.19 342.58,94.1 342.96,96.03 343.35,98.23 343.73,99.68 344.12,100.55 344.5,101.89 344.88,103.32 345.27,104.52 345.65,105.52 346.03,106.23 346.42,106.3 346.8,106.3 347.18,106.3 347.57,106.3 347.95,106.3 348.34,106.3 348.72,106.3 349.1,106.3 349.49,106.3 349.87,106.3 350.25,106.3 350.64,106.3 351.02,106.3 351.4,106.3 351.79,106.3 352.17,106.3 352.56,106.3 352.94,106.3 353.32,106.3 353.71,106.3 354.09,106.3 354.47,106.3 354.86,106.3 355.24,106.3 355.62,106.3 356.01,106.3 356.39,106.3 356.78,106.3 357.16,106.3 357.54,106.3 357.93,106.3 358.31,106.3 358.69,106.3 359.08,106.3 359.46,106.3 359.84,106.3 360.23,106.3 360.61,106.3 361,106.3 361.38,106.3 361.76,106.3 362.15,106.3 362.53,106.3 362.91,106.3 363.3,106.3 363.68,106.3 364.06,106.3 364.45,106.3 364.83,106.3 365.22,106.3 365.6,106.3 365.98,106.3 366.37,106.3 366.75,106.3" fill="none" stroke="#5d6a86" stroke-width="1.1" stroke-linejoin="round"/>
<polyline points="324.55,105.74 324.93,105.15 325.32,104.18 325.7,103.53 326.08,102.59 326.47,101.67 326.85,100.62 327.24,99.39 327.62,97.94 328,96.75 328.39,95.63 328.77,94.97 329.15,92.84 329.54,91.77 329.92,91.26 330.3,89.37 330.69,87.9 331.07,86.63 331.46,86.09 331.84,84.59 332.22,84.24 332.61,82.94 332.99,81.92 333.37,79.86 333.76,78.53 334.14,77.48 334.52,76.98 334.91,76.29 335.29,75.02 335.68,73.89 336.06,73.35 336.44,72.76 336.83,72.19 337.21,71.81 337.59,72.26 337.98,73.26 338.36,74.37 338.74,75.66 339.13,77.09 339.51,78.25 339.9,79.02 340.28,81.49 340.66,82.37 341.05,84.35 341.43,85.76 341.81,87.92 342.2,88.92 342.58,90.68 342.96,92.37 343.35,93.94 343.73,96.54 344.12,97.77 344.5,99.05 344.88,100.65 345.27,102.47 345.65,103.49 346.03,104.6 346.42,105.65 346.8,106.29 347.18,106.3 347.57,106.3 347.95,106.3 348.34,106.3 348.72,106.3 349.1,106.3 349.49,106.3 349.87,106.3 350.25,106.3 350.64,106.3 351.02,106.3 351.4,106.3 351.79,106.3 352.17,106.3 352.56,106.3 352.94,106.3 353.32,106.3 353.71,106.3 354.09,106.3 354.47,106.3 354.86,106.3 355.24,106.3 355.62,106.3 356.01,106.3 356.39,106.3 356.78,106.3 357.16,106.3 357.54,106.3 357.93,106.3 358.31,106.3 358.69,106.3 359.08,106.3 359.46,106.3 359.84,106.3 360.23,106.3 360.61,106.3 361,106.3 361.38,106.3 361.76,106.3 362.15,106.3 362.53,106.3 362.91,106.3 363.3,106.3 363.68,106.3 364.06,106.3 364.45,106.3 364.83,106.3 365.22,106.3 365.6,106.3 365.98,106.3 366.37,106.3 366.75,106.3" fill="none" stroke="#931537" stroke-width="1.6" stroke-linejoin="round"/>
<rect x="323.75" y="62.8" width="43.8" height="43.6" fill="none" stroke="#111" stroke-width="1.5"/>
<rect x="323.75" y="112.9" width="43.8" height="43" fill="none" stroke="#111" stroke-width="1.5"/>
<text x="332.75" y="175.4" font-size="11.2" text-anchor="middle" font-weight="normal" fill="#1a1a1a" >2</text>
<text x="353.35" y="175.4" font-size="11.2" text-anchor="middle" font-weight="normal" fill="#1a1a1a" >4</text>
<line x1="379.6" y1="106.4" x2="379.6" y2="111.2" stroke="#111" stroke-width="1.3" />
<line x1="379.6" y1="155.9" x2="379.6" y2="160.5" stroke="#111" stroke-width="1.3" />
<line x1="389.9" y1="106.4" x2="389.9" y2="111.2" stroke="#111" stroke-width="1.3" />
<line x1="389.9" y1="155.9" x2="389.9" y2="160.5" stroke="#111" stroke-width="1.3" />
<line x1="400.2" y1="106.4" x2="400.2" y2="111.2" stroke="#111" stroke-width="1.3" />
<line x1="400.2" y1="155.9" x2="400.2" y2="160.5" stroke="#111" stroke-width="1.3" />
<line x1="410.5" y1="106.4" x2="410.5" y2="111.2" stroke="#111" stroke-width="1.3" />
<line x1="410.5" y1="155.9" x2="410.5" y2="160.5" stroke="#111" stroke-width="1.3" />
<polyline points="371.4,155.7 371.78,155.7 372.17,155.7 372.55,155.7 372.93,155.7 373.32,155.7 373.7,154.73 374.09,152.19 374.47,148.89 374.85,145.78 375.24,140.92 375.62,137.71 376,134.58 376.39,131.23 376.77,128.24 377.15,124.4 377.54,122.52 377.92,121.23 378.31,120.75 378.69,121.28 379.07,121.67 379.46,122.9 379.84,125.28 380.22,126.32 380.61,128.48 380.99,129.6 381.37,132.2 381.76,133.72 382.14,135.61 382.53,138.48 382.91,140.93 383.29,142.09 383.68,144.97 384.06,147.2 384.44,148.91 384.83,151.11 385.21,152.9 385.59,154.57 385.98,155.67 386.36,155.7 386.75,155.7 387.13,155.7 387.51,155.7 387.9,155.7 388.28,155.7 388.66,155.7 389.05,155.7 389.43,155.7 389.81,155.7 390.2,155.7 390.58,155.7 390.97,155.7 391.35,155.7 391.73,155.7 392.12,155.7 392.5,155.7 392.88,155.7 393.27,155.7 393.65,155.7 394.03,155.7 394.42,155.7 394.8,155.7 395.19,155.7 395.57,155.7 395.95,155.7 396.34,155.7 396.72,155.7 397.1,155.7 397.49,155.7 397.87,155.7 398.25,155.7 398.64,155.7 399.02,155.7 399.41,155.7 399.79,155.7 400.17,155.7 400.56,155.7 400.94,155.7 401.32,155.7 401.71,155.7 402.09,155.7 402.47,155.7 402.86,155.7 403.24,155.7 403.63,155.7 404.01,155.7 404.39,155.7 404.78,155.7 405.16,155.7 405.54,155.7 405.93,155.7 406.31,155.7 406.69,155.7 407.08,155.7 407.46,155.7 407.85,155.7 408.23,155.7 408.61,155.7 409,155.7 409.38,155.7 409.76,155.7 410.15,155.7 410.53,155.7 410.91,155.7 411.3,155.7 411.68,155.7 412.07,155.7 412.45,155.7 412.83,155.7 413.22,155.7 413.6,155.7" fill="none" stroke="#5d6a86" stroke-width="1.4" stroke-linejoin="round"/>
<polyline points="371.4,155.7 371.78,155.7 372.17,155.7 372.55,155.7 372.93,155.7 373.32,155.7 373.7,155.7 374.09,154.17 374.47,151.43 374.85,148.18 375.24,144.02 375.62,140.08 376,136.83 376.39,133.76 376.77,129.82 377.15,126.99 377.54,124.26 377.92,122.96 378.31,121.2 378.69,121.03 379.07,121.64 379.46,122.64 379.84,123.2 380.22,124.65 380.61,126.6 380.99,128.53 381.37,130.51 381.76,131.77 382.14,133.93 382.53,136.76 382.91,138.59 383.29,140.65 383.68,142.92 384.06,145.98 384.44,147.34 384.83,149.73 385.21,151.56 385.59,153.4 385.98,154.91 386.36,155.7 386.75,155.7 387.13,155.7 387.51,155.7 387.9,155.7 388.28,155.7 388.66,155.7 389.05,155.7 389.43,155.7 389.81,155.7 390.2,155.7 390.58,155.7 390.97,155.7 391.35,155.7 391.73,155.7 392.12,155.7 392.5,155.7 392.88,155.7 393.27,155.7 393.65,155.7 394.03,155.7 394.42,155.7 394.8,155.7 395.19,155.7 395.57,155.7 395.95,155.7 396.34,155.7 396.72,155.7 397.1,155.7 397.49,155.7 397.87,155.7 398.25,155.7 398.64,155.7 399.02,155.7 399.41,155.7 399.79,155.7 400.17,155.7 400.56,155.7 400.94,155.7 401.32,155.7 401.71,155.7 402.09,155.7 402.47,155.7 402.86,155.7 403.24,155.7 403.63,155.7 404.01,155.7 404.39,155.7 404.78,155.7 405.16,155.7 405.54,155.7 405.93,155.7 406.31,155.7 406.69,155.7 407.08,155.7 407.46,155.7 407.85,155.7 408.23,155.7 408.61,155.7 409,155.7 409.38,155.7 409.76,155.7 410.15,155.7 410.53,155.7 410.91,155.7 411.3,155.7 411.68,155.7 412.07,155.7 412.45,155.7 412.83,155.7 413.22,155.7 413.6,155.7" fill="none" stroke="#dfb47c" stroke-width="1.4" stroke-linejoin="round"/>
<polyline points="371.4,106.3 371.78,106.17 372.17,104.74 372.55,102.82 372.93,99.98 373.32,97.14 373.7,95.17 374.09,91.81 374.47,88.9 374.85,87.48 375.24,84.38 375.62,82.57 376,79.87 376.39,78.54 376.77,76.27 377.15,74.45 377.54,73.76 377.92,73.02 378.31,72.82 378.69,73.09 379.07,73.58 379.46,73.62 379.84,75.14 380.22,76.21 380.61,77.65 380.99,77.79 381.37,79.79 381.76,80.86 382.14,82.53 382.53,83.62 382.91,85.43 383.29,87.43 383.68,89.69 384.06,90.39 384.44,92.68 384.83,94.89 385.21,96.89 385.59,97.67 385.98,99.41 386.36,101.78 386.75,103.24 387.13,104.41 387.51,105.59 387.9,106.3 388.28,106.3 388.66,106.3 389.05,106.3 389.43,106.3 389.81,106.3 390.2,106.3 390.58,106.3 390.97,106.3 391.35,106.3 391.73,106.3 392.12,106.3 392.5,106.3 392.88,106.3 393.27,106.3 393.65,106.3 394.03,106.3 394.42,106.3 394.8,106.3 395.19,106.3 395.57,106.3 395.95,106.3 396.34,106.3 396.72,106.3 397.1,106.3 397.49,106.3 397.87,106.3 398.25,106.3 398.64,106.3 399.02,106.3 399.41,106.3 399.79,106.3 400.17,106.3 400.56,106.3 400.94,106.3 401.32,106.3 401.71,106.3 402.09,106.3 402.47,106.3 402.86,106.3 403.24,106.3 403.63,106.3 404.01,106.3 404.39,106.3 404.78,106.3 405.16,106.3 405.54,106.3 405.93,106.3 406.31,106.3 406.69,106.3 407.08,106.3 407.46,106.3 407.85,106.3 408.23,106.3 408.61,106.3 409,106.3 409.38,106.3 409.76,106.3 410.15,106.3 410.53,106.3 410.91,106.3 411.3,106.3 411.68,106.3 412.07,106.3 412.45,106.3 412.83,106.3 413.22,106.3 413.6,106.3" fill="none" stroke="#5d6a86" stroke-width="1.1" stroke-linejoin="round"/>
<polyline points="371.4,106.3 371.78,106.3 372.17,106.3 372.55,105.96 372.93,104.1 373.32,102.27 373.7,99.36 374.09,97.32 374.47,94.21 374.85,91.71 375.24,88.12 375.62,86.29 376,83.04 376.39,80.9 376.77,79.29 377.15,77.29 377.54,74.74 377.92,73.35 378.31,72.63 378.69,71.94 379.07,71.85 379.46,72.18 379.84,72.71 380.22,73.3 380.61,74.33 380.99,75.16 381.37,75.97 381.76,77.39 382.14,79.37 382.53,81.06 382.91,81.49 383.29,83.79 383.68,85.73 384.06,86.55 384.44,89.38 384.83,90.27 385.21,92.74 385.59,94.53 385.98,96.47 386.36,97.89 386.75,99.82 387.13,101.65 387.51,103.13 387.9,104.63 388.28,105.75 388.66,106.3 389.05,106.3 389.43,106.3 389.81,106.3 390.2,106.3 390.58,106.3 390.97,106.3 391.35,106.3 391.73,106.3 392.12,106.3 392.5,106.3 392.88,106.3 393.27,106.3 393.65,106.3 394.03,106.3 394.42,106.3 394.8,106.3 395.19,106.3 395.57,106.3 395.95,106.3 396.34,106.3 396.72,106.3 397.1,106.3 397.49,106.3 397.87,106.3 398.25,106.3 398.64,106.3 399.02,106.3 399.41,106.3 399.79,106.3 400.17,106.3 400.56,106.3 400.94,106.3 401.32,106.3 401.71,106.3 402.09,106.3 402.47,106.3 402.86,106.3 403.24,106.3 403.63,106.3 404.01,106.3 404.39,106.3 404.78,106.3 405.16,106.3 405.54,106.3 405.93,106.3 406.31,106.3 406.69,106.3 407.08,106.3 407.46,106.3 407.85,106.3 408.23,106.3 408.61,106.3 409,106.3 409.38,106.3 409.76,106.3 410.15,106.3 410.53,106.3 410.91,106.3 411.3,106.3 411.68,106.3 412.07,106.3 412.45,106.3 412.83,106.3 413.22,106.3 413.6,106.3" fill="none" stroke="#931537" stroke-width="1.6" stroke-linejoin="round"/>
<rect x="370.6" y="62.8" width="43.8" height="43.6" fill="none" stroke="#111" stroke-width="1.5"/>
<rect x="370.6" y="112.9" width="43.8" height="43" fill="none" stroke="#111" stroke-width="1.5"/>
<text x="379.6" y="175.4" font-size="11.2" text-anchor="middle" font-weight="normal" fill="#1a1a1a" >2</text>
<text x="400.2" y="175.4" font-size="11.2" text-anchor="middle" font-weight="normal" fill="#1a1a1a" >4</text>
<line x1="426.45" y1="106.4" x2="426.45" y2="111.2" stroke="#111" stroke-width="1.3" />
<line x1="426.45" y1="155.9" x2="426.45" y2="160.5" stroke="#111" stroke-width="1.3" />
<line x1="436.75" y1="106.4" x2="436.75" y2="111.2" stroke="#111" stroke-width="1.3" />
<line x1="436.75" y1="155.9" x2="436.75" y2="160.5" stroke="#111" stroke-width="1.3" />
<line x1="447.05" y1="106.4" x2="447.05" y2="111.2" stroke="#111" stroke-width="1.3" />
<line x1="447.05" y1="155.9" x2="447.05" y2="160.5" stroke="#111" stroke-width="1.3" />
<line x1="457.35" y1="106.4" x2="457.35" y2="111.2" stroke="#111" stroke-width="1.3" />
<line x1="457.35" y1="155.9" x2="457.35" y2="160.5" stroke="#111" stroke-width="1.3" />
<polyline points="418.25,155.7 418.63,155.7 419.02,155.7 419.4,155.7 419.78,154.68 420.17,151.35 420.55,147.23 420.94,142.22 421.32,138.38 421.7,133.64 422.09,128.91 422.47,125.53 422.85,121.97 423.24,118.68 423.62,117.03 424,117.6 424.39,118.37 424.77,120.29 425.16,121.62 425.54,123.67 425.92,126.26 426.31,128.15 426.69,131.06 427.07,133.68 427.46,135.67 427.84,139.07 428.22,140.97 428.61,144.42 428.99,146.99 429.38,149.09 429.76,151.08 430.14,153.36 430.53,155 430.91,155.7 431.29,155.7 431.68,155.7 432.06,155.7 432.44,155.7 432.83,155.7 433.21,155.7 433.6,155.7 433.98,155.7 434.36,155.7 434.75,155.7 435.13,155.7 435.51,155.7 435.9,155.7 436.28,155.7 436.66,155.7 437.05,155.7 437.43,155.7 437.82,155.7 438.2,155.7 438.58,155.7 438.97,155.7 439.35,155.7 439.73,155.7 440.12,155.7 440.5,155.7 440.88,155.7 441.27,155.7 441.65,155.7 442.04,155.7 442.42,155.7 442.8,155.7 443.19,155.7 443.57,155.7 443.95,155.7 444.34,155.7 444.72,155.7 445.1,155.7 445.49,155.7 445.87,155.7 446.26,155.7 446.64,155.7 447.02,155.7 447.41,155.7 447.79,155.7 448.17,155.7 448.56,155.7 448.94,155.7 449.32,155.7 449.71,155.7 450.09,155.7 450.48,155.7 450.86,155.7 451.24,155.7 451.63,155.7 452.01,155.7 452.39,155.7 452.78,155.7 453.16,155.7 453.54,155.7 453.93,155.7 454.31,155.7 454.7,155.7 455.08,155.7 455.46,155.7 455.85,155.7 456.23,155.7 456.61,155.7 457,155.7 457.38,155.7 457.76,155.7 458.15,155.7 458.53,155.7 458.92,155.7 459.3,155.7 459.68,155.7 460.07,155.7 460.45,155.7" fill="none" stroke="#5d6a86" stroke-width="1.4" stroke-linejoin="round"/>
<polyline points="418.25,155.7 418.63,155.7 419.02,155.7 419.4,155.7 419.78,155.7 420.17,154.06 420.55,150.92 420.94,146.01 421.32,142.48 421.7,138.11 422.09,133.27 422.47,129.1 422.85,124.36 423.24,121.99 423.62,118.71 424,117.54 424.39,118.31 424.77,120.16 425.16,121.69 425.54,122.55 425.92,125.39 426.31,127.78 426.69,128.99 427.07,131.8 427.46,134.84 427.84,136.63 428.22,140.19 428.61,141.97 428.99,145.23 429.38,146.89 429.76,149.67 430.14,152.08 430.53,153.71 430.91,155.28 431.29,155.7 431.68,155.7 432.06,155.7 432.44,155.7 432.83,155.7 433.21,155.7 433.6,155.7 433.98,155.7 434.36,155.7 434.75,155.7 435.13,155.7 435.51,155.7 435.9,155.7 436.28,155.7 436.66,155.7 437.05,155.7 437.43,155.7 437.82,155.7 438.2,155.7 438.58,155.7 438.97,155.7 439.35,155.7 439.73,155.7 440.12,155.7 440.5,155.7 440.88,155.7 441.27,155.7 441.65,155.7 442.04,155.7 442.42,155.7 442.8,155.7 443.19,155.7 443.57,155.7 443.95,155.7 444.34,155.7 444.72,155.7 445.1,155.7 445.49,155.7 445.87,155.7 446.26,155.7 446.64,155.7 447.02,155.7 447.41,155.7 447.79,155.7 448.17,155.7 448.56,155.7 448.94,155.7 449.32,155.7 449.71,155.7 450.09,155.7 450.48,155.7 450.86,155.7 451.24,155.7 451.63,155.7 452.01,155.7 452.39,155.7 452.78,155.7 453.16,155.7 453.54,155.7 453.93,155.7 454.31,155.7 454.7,155.7 455.08,155.7 455.46,155.7 455.85,155.7 456.23,155.7 456.61,155.7 457,155.7 457.38,155.7 457.76,155.7 458.15,155.7 458.53,155.7 458.92,155.7 459.3,155.7 459.68,155.7 460.07,155.7 460.45,155.7" fill="none" stroke="#dfb47c" stroke-width="1.4" stroke-linejoin="round"/>
<polyline points="418.25,106.3 418.63,106.3 419.02,106.23 419.4,104.31 419.78,101.66 420.17,98.32 420.55,94.53 420.94,91.21 421.32,87.64 421.7,85.15 422.09,81.43 422.47,78.51 422.85,74.63 423.24,72.83 423.62,69.82 424,68.85 424.39,69.2 424.77,71.13 425.16,73.85 425.54,76.54 425.92,80.61 426.31,83.85 426.69,87.68 427.07,91.95 427.46,94.77 427.84,99.46 428.22,102.4 428.61,105.09 428.99,106.3 429.38,106.3 429.76,106.3 430.14,106.3 430.53,106.3 430.91,106.3 431.29,106.3 431.68,106.3 432.06,106.3 432.44,106.3 432.83,106.3 433.21,106.3 433.6,106.3 433.98,106.3 434.36,106.3 434.75,106.3 435.13,106.3 435.51,106.3 435.9,106.3 436.28,106.3 436.66,106.3 437.05,106.3 437.43,106.3 437.82,106.3 438.2,106.3 438.58,106.3 438.97,106.3 439.35,106.3 439.73,106.3 440.12,106.3 440.5,106.3 440.88,106.3 441.27,106.3 441.65,106.3 442.04,106.3 442.42,106.3 442.8,106.3 443.19,106.3 443.57,106.3 443.95,106.3 444.34,106.3 444.72,106.3 445.1,106.3 445.49,106.3 445.87,106.3 446.26,106.3 446.64,106.3 447.02,106.3 447.41,106.3 447.79,106.3 448.17,106.3 448.56,106.3 448.94,106.3 449.32,106.3 449.71,106.3 450.09,106.3 450.48,106.3 450.86,106.3 451.24,106.3 451.63,106.3 452.01,106.3 452.39,106.3 452.78,106.3 453.16,106.3 453.54,106.3 453.93,106.3 454.31,106.3 454.7,106.3 455.08,106.3 455.46,106.3 455.85,106.3 456.23,106.3 456.61,106.3 457,106.3 457.38,106.3 457.76,106.3 458.15,106.3 458.53,106.3 458.92,106.3 459.3,106.3 459.68,106.3 460.07,106.3 460.45,106.3" fill="none" stroke="#5d6a86" stroke-width="1.1" stroke-linejoin="round"/>
<polyline points="418.25,106.3 418.63,106.3 419.02,106.3 419.4,106.3 419.78,106.01 420.17,103.97 420.55,100.82 420.94,98.28 421.32,94.31 421.7,90.42 422.09,87.31 422.47,83.31 422.85,79.52 423.24,77.01 423.62,73.14 424,71.55 424.39,68.72 424.77,67.7 425.16,68.49 425.54,70.76 425.92,73.95 426.31,76.64 426.69,80.29 427.07,83.61 427.46,87.13 427.84,91.15 428.22,95.21 428.61,99.51 428.99,99.08 429.38,98.93 429.76,99.15 430.14,98.27 430.53,98.31 430.91,98.73 431.29,98.06 431.68,98.04 432.06,98.42 432.44,98.19 432.83,98.52 433.21,98.5 433.6,99.03 433.98,99.29 434.36,99.27 434.75,100.09 435.13,100.52 435.51,100.97 435.9,102.3 436.28,102.92 436.66,104.09 437.05,105.52 437.43,106.3 437.82,106.3 438.2,106.3 438.58,106.3 438.97,106.3 439.35,106.3 439.73,106.3 440.12,106.3 440.5,106.3 440.88,106.3 441.27,106.3 441.65,106.3 442.04,106.3 442.42,106.3 442.8,106.3 443.19,106.3 443.57,106.3 443.95,106.3 444.34,106.3 444.72,106.3 445.1,106.3 445.49,106.3 445.87,106.3 446.26,106.3 446.64,106.3 447.02,106.3 447.41,106.3 447.79,106.3 448.17,106.3 448.56,106.3 448.94,106.3 449.32,106.3 449.71,106.3 450.09,106.3 450.48,106.3 450.86,106.3 451.24,106.3 451.63,106.3 452.01,106.3 452.39,106.3 452.78,106.3 453.16,106.3 453.54,106.3 453.93,106.3 454.31,106.3 454.7,106.3 455.08,106.3 455.46,106.3 455.85,106.3 456.23,106.3 456.61,106.3 457,106.3 457.38,106.3 457.76,106.3 458.15,106.3 458.53,106.3 458.92,106.3 459.3,106.3 459.68,106.3 460.07,106.3 460.45,106.3" fill="none" stroke="#931537" stroke-width="1.6" stroke-linejoin="round"/>
<rect x="417.45" y="62.8" width="43.8" height="43.6" fill="none" stroke="#111" stroke-width="1.5"/>
<rect x="417.45" y="112.9" width="43.8" height="43" fill="none" stroke="#111" stroke-width="1.5"/>
<text x="426.45" y="175.4" font-size="11.2" text-anchor="middle" font-weight="normal" fill="#1a1a1a" >2</text>
<text x="447.05" y="175.4" font-size="11.2" text-anchor="middle" font-weight="normal" fill="#1a1a1a" >4</text>
<line x1="473.3" y1="106.4" x2="473.3" y2="111.2" stroke="#111" stroke-width="1.3" />
<line x1="473.3" y1="155.9" x2="473.3" y2="160.5" stroke="#111" stroke-width="1.3" />
<line x1="483.6" y1="106.4" x2="483.6" y2="111.2" stroke="#111" stroke-width="1.3" />
<line x1="483.6" y1="155.9" x2="483.6" y2="160.5" stroke="#111" stroke-width="1.3" />
<line x1="493.9" y1="106.4" x2="493.9" y2="111.2" stroke="#111" stroke-width="1.3" />
<line x1="493.9" y1="155.9" x2="493.9" y2="160.5" stroke="#111" stroke-width="1.3" />
<line x1="504.2" y1="106.4" x2="504.2" y2="111.2" stroke="#111" stroke-width="1.3" />
<line x1="504.2" y1="155.9" x2="504.2" y2="160.5" stroke="#111" stroke-width="1.3" />
<polyline points="465.1,155.7 465.48,155.7 465.87,155.7 466.25,155.7 466.63,155.7 467.02,155.7 467.4,155.7 467.79,155.28 468.17,154.48 468.55,153.69 468.94,152.8 469.32,151.69 469.7,150.26 470.09,148.85 470.47,147.21 470.85,146.55 471.24,145.02 471.62,143.29 472.01,142.17 472.39,140.39 472.77,139.48 473.16,137.65 473.54,135.43 473.92,134.69 474.31,131.98 474.69,131.01 475.07,129.26 475.46,127.46 475.84,125.66 476.23,125.06 476.61,122.57 476.99,121.83 477.38,120.96 477.76,118.67 478.14,118.1 478.53,119.38 478.91,122.59 479.29,125.39 479.68,128.62 480.06,131.96 480.45,134.26 480.83,137.54 481.21,140.58 481.6,143.2 481.98,147.09 482.36,149.48 482.75,151.75 483.13,153.56 483.51,155.28 483.9,155.7 484.28,155.7 484.67,155.7 485.05,155.7 485.43,155.7 485.82,155.7 486.2,155.7 486.58,155.7 486.97,155.7 487.35,155.7 487.73,155.7 488.12,155.7 488.5,155.7 488.89,155.7 489.27,155.7 489.65,155.7 490.04,155.7 490.42,155.7 490.8,155.7 491.19,155.7 491.57,155.7 491.95,155.7 492.34,155.7 492.72,155.7 493.11,155.7 493.49,155.7 493.87,155.7 494.26,155.7 494.64,155.7 495.02,155.7 495.41,155.7 495.79,155.7 496.17,155.7 496.56,155.7 496.94,155.7 497.33,155.7 497.71,155.7 498.09,155.7 498.48,155.7 498.86,155.7 499.24,155.7 499.63,155.7 500.01,155.7 500.39,155.7 500.78,155.7 501.16,155.7 501.55,155.7 501.93,155.7 502.31,155.7 502.7,155.7 503.08,155.7 503.46,155.7 503.85,155.7 504.23,155.7 504.61,155.7 505,155.7 505.38,155.7 505.77,155.7 506.15,155.7 506.53,155.7 506.92,155.7 507.3,155.7" fill="none" stroke="#7a7a7a" stroke-width="1.4" stroke-linejoin="round"/>
<polyline points="465.1,106.3 465.48,106.3 465.87,106.3 466.25,106.3 466.63,106.3 467.02,106.3 467.4,106.22 467.79,105.64 468.17,104.88 468.55,103.91 468.94,102.7 469.32,101.7 469.7,100.21 470.09,98.6 470.47,96.99 470.85,95.7 471.24,93.95 471.62,92.8 472.01,91.77 472.39,90.11 472.77,88.7 473.16,86.91 473.54,84.7 473.92,83.44 474.31,81.67 474.69,80.51 475.07,78.58 475.46,76.68 475.84,75.66 476.23,74.63 476.61,72.3 476.99,71.48 477.38,71.69 477.76,74.24 478.14,75.46 478.53,78.27 478.91,80.8 479.29,84.07 479.68,86.95 480.06,89.3 480.45,91.31 480.83,94.53 481.21,96.22 481.6,98.44 481.98,101.2 482.36,102.89 482.75,104.58 483.13,105.85 483.51,106.3 483.9,106.3 484.28,106.3 484.67,106.3 485.05,106.3 485.43,106.3 485.82,106.3 486.2,106.3 486.58,106.3 486.97,106.3 487.35,106.3 487.73,106.3 488.12,106.3 488.5,106.3 488.89,106.3 489.27,106.3 489.65,106.3 490.04,106.3 490.42,106.3 490.8,106.3 491.19,106.3 491.57,106.3 491.95,106.3 492.34,106.3 492.72,106.3 493.11,106.3 493.49,106.3 493.87,106.3 494.26,106.3 494.64,106.3 495.02,106.3 495.41,106.3 495.79,106.3 496.17,106.3 496.56,106.3 496.94,106.3 497.33,106.3 497.71,106.3 498.09,106.3 498.48,106.3 498.86,106.3 499.24,106.3 499.63,106.3 500.01,106.3 500.39,106.3 500.78,106.3 501.16,106.3 501.55,106.3 501.93,106.3 502.31,106.3 502.7,106.3 503.08,106.3 503.46,106.3 503.85,106.3 504.23,106.3 504.61,106.3 505,106.3 505.38,106.3 505.77,106.3 506.15,106.3 506.53,106.3 506.92,106.3 507.3,106.3" fill="none" stroke="#5d6a86" stroke-width="1.1" stroke-linejoin="round"/>
<polyline points="465.1,106.3 465.48,106.3 465.87,106.3 466.25,106.3 466.63,106.3 467.02,106.3 467.4,106.3 467.79,106.3 468.17,106.14 468.55,105.48 468.94,104.64 469.32,103.75 469.7,101.01 470.09,99.69 470.47,98.78 470.85,98.74 471.24,96.91 471.62,95.78 472.01,94.03 472.39,92.11 472.77,90.37 473.16,89.27 473.54,86.9 473.92,86.32 474.31,83.64 474.69,81.82 475.07,80.25 475.46,79.66 475.84,77.27 476.23,75.41 476.61,73.72 476.99,72.26 477.38,71.73 477.76,70.31 478.14,71.05 478.53,73.41 478.91,75.93 479.29,78.56 479.68,80.34 480.06,83.71 480.45,86.1 480.83,89.36 481.21,91.99 481.6,94.64 481.98,96.02 482.36,99.31 482.75,101.4 483.13,103.26 483.51,104.66 483.9,106.01 484.28,106.3 484.67,106.3 485.05,106.3 485.43,106.3 485.82,106.3 486.2,106.3 486.58,106.3 486.97,106.3 487.35,106.3 487.73,106.3 488.12,106.3 488.5,106.3 488.89,106.3 489.27,106.3 489.65,106.3 490.04,106.3 490.42,106.3 490.8,106.3 491.19,106.3 491.57,106.3 491.95,106.3 492.34,106.3 492.72,106.3 493.11,106.3 493.49,106.3 493.87,106.3 494.26,106.3 494.64,106.3 495.02,106.3 495.41,106.3 495.79,106.3 496.17,106.3 496.56,106.3 496.94,106.3 497.33,106.3 497.71,106.3 498.09,106.3 498.48,106.3 498.86,106.3 499.24,106.3 499.63,106.3 500.01,106.3 500.39,106.3 500.78,106.3 501.16,106.3 501.55,106.3 501.93,106.3 502.31,106.3 502.7,106.3 503.08,106.3 503.46,106.3 503.85,106.3 504.23,106.3 504.61,106.3 505,106.3 505.38,106.3 505.77,106.3 506.15,106.3 506.53,106.3 506.92,106.3 507.3,106.3" fill="none" stroke="#931537" stroke-width="1.6" stroke-linejoin="round"/>
<rect x="464.3" y="62.8" width="43.8" height="43.6" fill="none" stroke="#111" stroke-width="1.5"/>
<rect x="464.3" y="112.9" width="43.8" height="43" fill="none" stroke="#111" stroke-width="1.5"/>
<text x="473.3" y="175.4" font-size="11.2" text-anchor="middle" font-weight="normal" fill="#1a1a1a" >2</text>
<text x="493.9" y="175.4" font-size="11.2" text-anchor="middle" font-weight="normal" fill="#1a1a1a" >4</text>
<text x="101.8" y="72.6" font-size="9.3" text-anchor="start" font-weight="normal" fill="#99324f" >sIgG</text>
<text x="101.4" y="83.5" font-size="9.3" text-anchor="start" font-weight="normal" fill="#8391a8" >Isotype</text>
<svg x="89.5" y="112.9" width="43.3" height="43" overflow="hidden"><text x="22.3" y="10.6" font-size="9.4" fill="#e0bf90">sIgM</text></svg>
<text transform="translate(83.6,105) rotate(-90)" font-size="11" text-anchor="middle" fill="#1a1a1a">Count</text>
<text transform="translate(302.3,195.7) scale(0.86,1)" font-size="14.4" text-anchor="middle" fill="#1a1a1a" textLength="108.14" lengthAdjust="spacing">Expression (log)</text>
<text x="11" y="237" font-size="16.5" text-anchor="start" font-weight="bold" fill="#000" >B</text>
<path d="M89.1 243.7V237.5H367.5V243.7" fill="none" stroke="#111" stroke-width="1.6"/>
<path d="M370.6 243.7V237.5H461.2V243.7" fill="none" stroke="#111" stroke-width="1.6"/>
<text x="231.4" y="233.7" font-size="11.3" text-anchor="middle" font-weight="bold" fill="#1a1a1a" >BCR</text>
<text x="414.2" y="233.7" font-size="11.3" text-anchor="middle" font-weight="bold" fill="#1a1a1a" >Non-BCR</text>
<path d="M88.8 268.7V262.4H176V268.7" fill="none" stroke="#111" stroke-width="1.6"/>
<text x="133.2" y="259.6" font-size="11.4" text-anchor="middle" font-weight="normal" fill="#1a1a1a" >GCB</text>
<path d="M180.8 268.7V262.4H366.8V268.7" fill="none" stroke="#111" stroke-width="1.6"/>
<text x="275.7" y="259.6" font-size="11.4" text-anchor="middle" font-weight="normal" fill="#1a1a1a" >ABC</text>
<path d="M369.8 268.7V262.4H458.8V268.7" fill="none" stroke="#111" stroke-width="1.6"/>
<text x="417.1" y="259.6" font-size="11.4" text-anchor="middle" font-weight="normal" fill="#1a1a1a" >ABC</text>
<path d="M466.9 268.7V262.4H503.8V268.7" fill="none" stroke="#111" stroke-width="1.6"/>
<text x="486.1" y="259.6" font-size="11.4" text-anchor="middle" font-weight="normal" fill="#1a1a1a" >PBL</text>
<text x="111" y="279.5" font-size="11.4" text-anchor="middle" font-weight="normal" fill="#1a1a1a" >LTL-014</text>
<text x="157.7" y="279.5" font-size="11.4" text-anchor="middle" font-weight="normal" fill="#1a1a1a" >LTL-030</text>
<text x="205.2" y="279.5" font-size="11.4" text-anchor="middle" font-weight="normal" fill="#1a1a1a" >LTL-005</text>
<text x="250.6" y="279.5" font-size="11.4" text-anchor="middle" font-weight="normal" fill="#1a1a1a" >LTL-013</text>
<text x="298.8" y="279.5" font-size="11.4" text-anchor="middle" font-weight="normal" fill="#1a1a1a" >LTL-025</text>
<text x="344.8" y="279.5" font-size="11.4" text-anchor="middle" font-weight="normal" fill="#1a1a1a" >LTL-026</text>
<text x="392" y="279.5" font-size="11.4" text-anchor="middle" font-weight="normal" fill="#1a1a1a" >LTL-034</text>
<text x="437.7" y="279.5" font-size="11.4" text-anchor="middle" font-weight="normal" fill="#1a1a1a" >LTL-037</text>
<text x="486.9" y="279.5" font-size="11.4" text-anchor="middle" font-weight="normal" fill="#1a1a1a" >LTL-048</text>
<line x1="86" y1="288.4" x2="86" y2="383.2" stroke="#111" stroke-width="1.6" />
<line x1="85.2" y1="382.4" x2="504.2" y2="382.4" stroke="#111" stroke-width="1.6" />
<line x1="178.9" y1="288" x2="178.9" y2="382.4" stroke="#151515" stroke-width="1.3" stroke-dasharray="3,2"/>
<line x1="368.9" y1="288" x2="368.9" y2="382.4" stroke="#151515" stroke-width="1.3" stroke-dasharray="3,2"/>
<line x1="463.7" y1="288" x2="463.7" y2="382.4" stroke="#151515" stroke-width="1.3" stroke-dasharray="3,2"/>
<line x1="81.5" y1="292.6" x2="86" y2="292.6" stroke="#111" stroke-width="1.3" />
<text x="76.4" y="297.2" font-size="11.4" text-anchor="end" font-weight="normal" fill="#1a1a1a" >100</text>
<line x1="81.5" y1="337.8" x2="86" y2="337.8" stroke="#111" stroke-width="1.3" />
<text x="76.4" y="342.4" font-size="11.4" text-anchor="end" font-weight="normal" fill="#1a1a1a" >50</text>
<line x1="81.5" y1="382.4" x2="86" y2="382.4" stroke="#111" stroke-width="1.3" />
<text x="76.4" y="387" font-size="11.4" text-anchor="end" font-weight="normal" fill="#1a1a1a" >0</text>
<line x1="105" y1="291.6" x2="105" y2="292.6" stroke="#111" stroke-width="1.3" />
<line x1="101.9" y1="291.6" x2="108.1" y2="291.6" stroke="#111" stroke-width="1.6" />
<rect x="99.4" y="292.6" width="11.2" height="89.8" fill="#6b7c98" stroke="#56647d" stroke-width="0.6"/>
<line x1="116.2" y1="346.4" x2="116.2" y2="347.2" stroke="#111" stroke-width="1.3" />
<line x1="113.1" y1="346.4" x2="119.3" y2="346.4" stroke="#111" stroke-width="1.6" />
<rect x="110.6" y="347.2" width="11.2" height="35.2" fill="#a50028" stroke="#85001f" stroke-width="0.6"/>
<polygon points="116.2,337.7 116.85,339.41 118.67,339.5 117.25,340.64 117.73,342.4 116.2,341.4 114.67,342.4 115.15,340.64 113.73,339.5 115.55,339.41" fill="#1a1a1a" stroke="#1a1a1a" stroke-width="0.4" stroke-linejoin="round"/>
<line x1="151.45" y1="291.6" x2="151.45" y2="292.6" stroke="#111" stroke-width="1.3" />
<line x1="148.35" y1="291.6" x2="154.55" y2="291.6" stroke="#111" stroke-width="1.6" />
<rect x="145.85" y="292.6" width="11.2" height="89.8" fill="#6b7c98" stroke="#56647d" stroke-width="0.6"/>
<line x1="162.65" y1="354.8" x2="162.65" y2="355.7" stroke="#111" stroke-width="1.3" />
<line x1="159.55" y1="354.8" x2="165.75" y2="354.8" stroke="#111" stroke-width="1.6" />
<rect x="157.05" y="355.7" width="11.2" height="26.7" fill="#a50028" stroke="#85001f" stroke-width="0.6"/>
<polygon points="162.65,346.2 163.3,347.91 165.12,348 163.7,349.14 164.18,350.9 162.65,349.9 161.12,350.9 161.6,349.14 160.18,348 162,347.91" fill="#1a1a1a" stroke="#1a1a1a" stroke-width="0.4" stroke-linejoin="round"/>
<line x1="197.9" y1="291.6" x2="197.9" y2="292.6" stroke="#111" stroke-width="1.3" />
<line x1="194.8" y1="291.6" x2="201" y2="291.6" stroke="#111" stroke-width="1.6" />
<rect x="192.3" y="292.6" width="11.2" height="89.8" fill="#6b7c98" stroke="#56647d" stroke-width="0.6"/>
<line x1="209.1" y1="347" x2="209.1" y2="347.9" stroke="#111" stroke-width="1.3" />
<line x1="206" y1="347" x2="212.2" y2="347" stroke="#111" stroke-width="1.6" />
<rect x="203.5" y="347.9" width="11.2" height="34.5" fill="#a50028" stroke="#85001f" stroke-width="0.6"/>
<polygon points="209.1,338.4 209.75,340.11 211.57,340.2 210.15,341.34 210.63,343.1 209.1,342.1 207.57,343.1 208.05,341.34 206.63,340.2 208.45,340.11" fill="#1a1a1a" stroke="#1a1a1a" stroke-width="0.4" stroke-linejoin="round"/>
<line x1="244.35" y1="291.6" x2="244.35" y2="292.6" stroke="#111" stroke-width="1.3" />
<line x1="241.25" y1="291.6" x2="247.45" y2="291.6" stroke="#111" stroke-width="1.6" />
<rect x="238.75" y="292.6" width="11.2" height="89.8" fill="#6b7c98" stroke="#56647d" stroke-width="0.6"/>
<line x1="255.55" y1="348.6" x2="255.55" y2="349.5" stroke="#111" stroke-width="1.3" />
<line x1="252.45" y1="348.6" x2="258.65" y2="348.6" stroke="#111" stroke-width="1.6" />
<rect x="249.95" y="349.5" width="11.2" height="32.9" fill="#a50028" stroke="#85001f" stroke-width="0.6"/>
<polygon points="255.55,340 256.2,341.71 258.02,341.8 256.6,342.94 257.08,344.7 255.55,343.7 254.02,344.7 254.5,342.94 253.08,341.8 254.9,341.71" fill="#1a1a1a" stroke="#1a1a1a" stroke-width="0.4" stroke-linejoin="round"/>
<line x1="290.8" y1="291.6" x2="290.8" y2="292.6" stroke="#111" stroke-width="1.3" />
<line x1="287.7" y1="291.6" x2="293.9" y2="291.6" stroke="#111" stroke-width="1.6" />
<rect x="285.2" y="292.6" width="11.2" height="89.8" fill="#6b7c98" stroke="#56647d" stroke-width="0.6"/>
<line x1="302" y1="373.2" x2="302" y2="374.2" stroke="#111" stroke-width="1.3" />
<line x1="298.9" y1="373.2" x2="305.1" y2="373.2" stroke="#111" stroke-width="1.6" />
<rect x="296.4" y="374.2" width="11.2" height="8.2" fill="#a50028" stroke="#85001f" stroke-width="0.6"/>
<polygon points="302,364.6 302.65,366.31 304.47,366.4 303.05,367.54 303.53,369.3 302,368.3 300.47,369.3 300.95,367.54 299.53,366.4 301.35,366.31" fill="#1a1a1a" stroke="#1a1a1a" stroke-width="0.4" stroke-linejoin="round"/>
<line x1="337.25" y1="291.6" x2="337.25" y2="292.6" stroke="#111" stroke-width="1.3" />
<line x1="334.15" y1="291.6" x2="340.35" y2="291.6" stroke="#111" stroke-width="1.6" />
<rect x="331.65" y="292.6" width="11.2" height="89.8" fill="#6b7c98" stroke="#56647d" stroke-width="0.6"/>
<line x1="348.45" y1="359.4" x2="348.45" y2="360.8" stroke="#111" stroke-width="1.3" />
<line x1="345.35" y1="359.4" x2="351.55" y2="359.4" stroke="#111" stroke-width="1.6" />
<rect x="342.85" y="360.8" width="11.2" height="21.6" fill="#a50028" stroke="#85001f" stroke-width="0.6"/>
<polygon points="348.45,351 349.1,352.71 350.92,352.8 349.5,353.94 349.98,355.7 348.45,354.7 346.92,355.7 347.4,353.94 345.98,352.8 347.8,352.71" fill="#1a1a1a" stroke="#1a1a1a" stroke-width="0.4" stroke-linejoin="round"/>
<line x1="383.7" y1="289.8" x2="383.7" y2="292.9" stroke="#111" stroke-width="1.3" />
<line x1="380.6" y1="289.8" x2="386.8" y2="289.8" stroke="#111" stroke-width="1.6" />
<rect x="378.1" y="292.9" width="11.2" height="89.5" fill="#6b7c98" stroke="#56647d" stroke-width="0.6"/>
<line x1="394.9" y1="291.4" x2="394.9" y2="301.5" stroke="#111" stroke-width="1.3" />
<line x1="391.8" y1="291.4" x2="398" y2="291.4" stroke="#111" stroke-width="1.6" />
<rect x="389.3" y="301.5" width="11.2" height="80.9" fill="#a50028" stroke="#85001f" stroke-width="0.6"/>
<line x1="430.15" y1="292" x2="430.15" y2="293" stroke="#111" stroke-width="1.3" />
<line x1="427.05" y1="292" x2="433.25" y2="292" stroke="#111" stroke-width="1.6" />
<rect x="424.55" y="293" width="11.2" height="89.4" fill="#6b7c98" stroke="#56647d" stroke-width="0.6"/>
<line x1="441.35" y1="297.8" x2="441.35" y2="301.5" stroke="#111" stroke-width="1.3" />
<line x1="438.25" y1="297.8" x2="444.45" y2="297.8" stroke="#111" stroke-width="1.6" />
<rect x="435.75" y="301.5" width="11.2" height="80.9" fill="#a50028" stroke="#85001f" stroke-width="0.6"/>
<line x1="476.6" y1="291.4" x2="476.6" y2="293" stroke="#111" stroke-width="1.3" />
<line x1="473.5" y1="291.4" x2="479.7" y2="291.4" stroke="#111" stroke-width="1.6" />
<rect x="471" y="293" width="11.2" height="89.4" fill="#6b7c98" stroke="#56647d" stroke-width="0.6"/>
<line x1="487.8" y1="294.8" x2="487.8" y2="299" stroke="#111" stroke-width="1.3" />
<line x1="484.7" y1="294.8" x2="490.9" y2="294.8" stroke="#111" stroke-width="1.6" />
<rect x="482.2" y="299" width="11.2" height="83.4" fill="#a50028" stroke="#85001f" stroke-width="0.6"/>
<text transform="translate(35.3,335.5) rotate(-90) scale(0.86,1)" font-size="14.2" text-anchor="middle" fill="#1a1a1a" textLength="81.98" lengthAdjust="spacing">Proliferation</text>
<text transform="translate(51.2,336.2) rotate(-90) scale(0.86,1)" font-size="14.2" text-anchor="middle" fill="#1a1a1a" textLength="95.93" lengthAdjust="spacing">(% of control)</text>
<text x="10.7" y="426.3" font-size="16.5" text-anchor="start" font-weight="bold" fill="#000" >C</text>
<line x1="86" y1="436.7" x2="86" y2="530.9" stroke="#111" stroke-width="1.6" />
<line x1="85.2" y1="530.1" x2="504.2" y2="530.1" stroke="#111" stroke-width="1.6" />
<line x1="178.3" y1="436.7" x2="178.3" y2="530.1" stroke="#151515" stroke-width="1.3" stroke-dasharray="3,2"/>
<line x1="368.8" y1="436.7" x2="368.8" y2="530.1" stroke="#151515" stroke-width="1.3" stroke-dasharray="3,2"/>
<line x1="463.7" y1="436.7" x2="463.7" y2="530.1" stroke="#151515" stroke-width="1.3" stroke-dasharray="3,2"/>
<line x1="81.5" y1="448.3" x2="86" y2="448.3" stroke="#111" stroke-width="1.3" />
<text x="76.6" y="452.9" font-size="11.4" text-anchor="end" font-weight="normal" fill="#1a1a1a" textLength="23.2" lengthAdjust="spacingAndGlyphs">0.04</text>
<line x1="81.5" y1="485.5" x2="86" y2="485.5" stroke="#111" stroke-width="1.3" />
<text x="76.6" y="490.1" font-size="11.4" text-anchor="end" font-weight="normal" fill="#1a1a1a" textLength="23.2" lengthAdjust="spacingAndGlyphs">0.02</text>
<line x1="81.5" y1="530.1" x2="86" y2="530.1" stroke="#111" stroke-width="1.3" />
<text x="76.4" y="534.7" font-size="11.4" text-anchor="end" font-weight="normal" fill="#1a1a1a" >0</text>
<line x1="105" y1="523.4" x2="105" y2="524.3" stroke="#111" stroke-width="1.3" />
<line x1="101.9" y1="523.4" x2="108.1" y2="523.4" stroke="#111" stroke-width="1.6" />
<rect x="99.4" y="524.3" width="11.2" height="5.8" fill="#6b7c98" stroke="#56647d" stroke-width="0.6"/>
<line x1="116.2" y1="446.8" x2="116.2" y2="453" stroke="#111" stroke-width="1.3" />
<line x1="113.1" y1="446.8" x2="119.3" y2="446.8" stroke="#111" stroke-width="1.6" />
<rect x="110.6" y="453" width="11.2" height="77.1" fill="#a50028" stroke="#85001f" stroke-width="0.6"/>
<polygon points="116.2,439.2 116.85,440.91 118.67,441 117.25,442.14 117.73,443.9 116.2,442.9 114.67,443.9 115.15,442.14 113.73,441 115.55,440.91" fill="#1a1a1a" stroke="#1a1a1a" stroke-width="0.4" stroke-linejoin="round"/>
<line x1="151.45" y1="523.1" x2="151.45" y2="524.8" stroke="#111" stroke-width="1.3" />
<line x1="148.35" y1="523.1" x2="154.55" y2="523.1" stroke="#111" stroke-width="1.6" />
<rect x="145.85" y="524.8" width="11.2" height="5.3" fill="#6b7c98" stroke="#56647d" stroke-width="0.6"/>
<line x1="162.65" y1="501.8" x2="162.65" y2="505.6" stroke="#111" stroke-width="1.3" />
<line x1="159.55" y1="501.8" x2="165.75" y2="501.8" stroke="#111" stroke-width="1.6" />
<rect x="157.05" y="505.6" width="11.2" height="24.5" fill="#a50028" stroke="#85001f" stroke-width="0.6"/>
<polygon points="162.65,492.8 163.3,494.51 165.12,494.6 163.7,495.74 164.18,497.5 162.65,496.5 161.12,497.5 161.6,495.74 160.18,494.6 162,494.51" fill="#1a1a1a" stroke="#1a1a1a" stroke-width="0.4" stroke-linejoin="round"/>
<line x1="197.9" y1="520.4" x2="197.9" y2="521.2" stroke="#111" stroke-width="1.3" />
<line x1="194.8" y1="520.4" x2="201" y2="520.4" stroke="#111" stroke-width="1.6" />
<rect x="192.3" y="521.2" width="11.2" height="8.9" fill="#6b7c98" stroke="#56647d" stroke-width="0.6"/>
<line x1="209.1" y1="522.1" x2="209.1" y2="523.8" stroke="#111" stroke-width="1.3" />
<line x1="206" y1="522.1" x2="212.2" y2="522.1" stroke="#111" stroke-width="1.6" />
<rect x="203.5" y="523.8" width="11.2" height="6.3" fill="#a50028" stroke="#85001f" stroke-width="0.6"/>
<line x1="244.35" y1="520.5" x2="244.35" y2="521.4" stroke="#111" stroke-width="1.3" />
<line x1="241.25" y1="520.5" x2="247.45" y2="520.5" stroke="#111" stroke-width="1.6" />
<rect x="238.75" y="521.4" width="11.2" height="8.7" fill="#6b7c98" stroke="#56647d" stroke-width="0.6"/>
<line x1="255.55" y1="520.4" x2="255.55" y2="522.1" stroke="#111" stroke-width="1.3" />
<line x1="252.45" y1="520.4" x2="258.65" y2="520.4" stroke="#111" stroke-width="1.6" />
<rect x="249.95" y="522.1" width="11.2" height="8" fill="#a50028" stroke="#85001f" stroke-width="0.6"/>
<line x1="290.8" y1="528.9" x2="290.8" y2="529.6" stroke="#111" stroke-width="1.3" />
<line x1="287.7" y1="528.9" x2="293.9" y2="528.9" stroke="#111" stroke-width="1.6" />
<rect x="285.2" y="529.6" width="11.2" height="0.5" fill="#6b7c98" stroke="#56647d" stroke-width="0.6"/>
<rect x="296.4" y="529.9" width="11.2" height="0.2" fill="#a50028" stroke="#85001f" stroke-width="0.6"/>
<line x1="337.25" y1="528.9" x2="337.25" y2="529.6" stroke="#111" stroke-width="1.3" />
<line x1="334.15" y1="528.9" x2="340.35" y2="528.9" stroke="#111" stroke-width="1.6" />
<rect x="331.65" y="529.6" width="11.2" height="0.5" fill="#6b7c98" stroke="#56647d" stroke-width="0.6"/>
<rect x="342.85" y="529.9" width="11.2" height="0.2" fill="#a50028" stroke="#85001f" stroke-width="0.6"/>
<line x1="383.7" y1="522.6" x2="383.7" y2="523.5" stroke="#111" stroke-width="1.3" />
<line x1="380.6" y1="522.6" x2="386.8" y2="522.6" stroke="#111" stroke-width="1.6" />
<rect x="378.1" y="523.5" width="11.2" height="6.6" fill="#6b7c98" stroke="#56647d" stroke-width="0.6"/>
<line x1="394.9" y1="522.8" x2="394.9" y2="523.5" stroke="#111" stroke-width="1.3" />
<line x1="391.8" y1="522.8" x2="398" y2="522.8" stroke="#111" stroke-width="1.6" />
<rect x="389.3" y="523.5" width="11.2" height="6.6" fill="#a50028" stroke="#85001f" stroke-width="0.6"/>
<line x1="430.15" y1="529.1" x2="430.15" y2="529.7" stroke="#111" stroke-width="1.3" />
<line x1="427.05" y1="529.1" x2="433.25" y2="529.1" stroke="#111" stroke-width="1.6" />
<rect x="424.55" y="529.7" width="11.2" height="0.4" fill="#6b7c98" stroke="#56647d" stroke-width="0.6"/>
<rect x="435.75" y="529.9" width="11.2" height="0.2" fill="#a50028" stroke="#85001f" stroke-width="0.6"/>
<line x1="476.6" y1="529.1" x2="476.6" y2="529.7" stroke="#111" stroke-width="1.3" />
<line x1="473.5" y1="529.1" x2="479.7" y2="529.1" stroke="#111" stroke-width="1.6" />
<rect x="471" y="529.7" width="11.2" height="0.4" fill="#6b7c98" stroke="#56647d" stroke-width="0.6"/>
<rect x="482.2" y="529.9" width="11.2" height="0.2" fill="#a50028" stroke="#85001f" stroke-width="0.6"/>
<text transform="translate(27.8,482.7) rotate(-90) scale(0.86,1)" font-size="14.2" text-anchor="middle" fill="#1a1a1a" textLength="109.3" lengthAdjust="spacing">HRK expression</text>
<text transform="translate(45.3,483.6) rotate(-90) scale(0.86,1)" font-size="14.2" text-anchor="middle" fill="#1a1a1a" textLength="128.49" lengthAdjust="spacing">(fraction of control)</text>
<text x="10.7" y="576.5" font-size="16.5" text-anchor="start" font-weight="bold" fill="#000" >D</text>
<line x1="86" y1="589" x2="86" y2="687.8" stroke="#111" stroke-width="1.6" />
<line x1="85.2" y1="687" x2="504.2" y2="687" stroke="#111" stroke-width="1.6" />
<line x1="179.1" y1="587.7" x2="179.1" y2="687" stroke="#151515" stroke-width="1.3" stroke-dasharray="3,2"/>
<line x1="369.2" y1="587.7" x2="369.2" y2="687" stroke="#151515" stroke-width="1.3" stroke-dasharray="3,2"/>
<line x1="463.7" y1="587.7" x2="463.7" y2="687" stroke="#151515" stroke-width="1.3" stroke-dasharray="3,2"/>
<line x1="81.5" y1="603" x2="86" y2="603" stroke="#111" stroke-width="1.3" />
<text x="76.4" y="607.6" font-size="11.4" text-anchor="end" font-weight="normal" fill="#1a1a1a" >0.3</text>
<line x1="81.5" y1="631" x2="86" y2="631" stroke="#111" stroke-width="1.3" />
<text x="76.4" y="635.6" font-size="11.4" text-anchor="end" font-weight="normal" fill="#1a1a1a" >0.2</text>
<line x1="81.5" y1="659" x2="86" y2="659" stroke="#111" stroke-width="1.3" />
<text x="76.4" y="663.6" font-size="11.4" text-anchor="end" font-weight="normal" fill="#1a1a1a" >0.1</text>
<line x1="81.5" y1="687" x2="86" y2="687" stroke="#111" stroke-width="1.3" />
<text x="76.4" y="691.6" font-size="11.4" text-anchor="end" font-weight="normal" fill="#1a1a1a" >0</text>
<line x1="151.45" y1="678.1" x2="151.45" y2="679.8" stroke="#111" stroke-width="1.3" />
<line x1="148.35" y1="678.1" x2="154.55" y2="678.1" stroke="#111" stroke-width="1.6" />
<rect x="145.85" y="679.8" width="11.2" height="7.2" fill="#6b7c98" stroke="#56647d" stroke-width="0.6"/>
<line x1="162.65" y1="684" x2="162.65" y2="684.6" stroke="#111" stroke-width="1.3" />
<line x1="159.55" y1="684" x2="165.75" y2="684" stroke="#111" stroke-width="1.6" />
<rect x="157.05" y="684.6" width="11.2" height="2.4" fill="#a50028" stroke="#85001f" stroke-width="0.6"/>
<polygon points="162.65,674.6 163.3,676.31 165.12,676.4 163.7,677.54 164.18,679.3 162.65,678.3 161.12,679.3 161.6,677.54 160.18,676.4 162,676.31" fill="#1a1a1a" stroke="#1a1a1a" stroke-width="0.4" stroke-linejoin="round"/>
<line x1="197.9" y1="667.2" x2="197.9" y2="670.3" stroke="#111" stroke-width="1.3" />
<line x1="194.8" y1="667.2" x2="201" y2="667.2" stroke="#111" stroke-width="1.6" />
<rect x="192.3" y="670.3" width="11.2" height="16.7" fill="#6b7c98" stroke="#56647d" stroke-width="0.6"/>
<line x1="209.1" y1="679.6" x2="209.1" y2="680.7" stroke="#111" stroke-width="1.3" />
<line x1="206" y1="679.6" x2="212.2" y2="679.6" stroke="#111" stroke-width="1.6" />
<rect x="203.5" y="680.7" width="11.2" height="6.3" fill="#a50028" stroke="#85001f" stroke-width="0.6"/>
<polygon points="209.1,670.3 209.75,672.01 211.57,672.1 210.15,673.24 210.63,675 209.1,674 207.57,675 208.05,673.24 206.63,672.1 208.45,672.01" fill="#1a1a1a" stroke="#1a1a1a" stroke-width="0.4" stroke-linejoin="round"/>
<line x1="244.35" y1="632.9" x2="244.35" y2="639.4" stroke="#111" stroke-width="1.3" />
<line x1="241.25" y1="632.9" x2="247.45" y2="632.9" stroke="#111" stroke-width="1.6" />
<rect x="238.75" y="639.4" width="11.2" height="47.6" fill="#6b7c98" stroke="#56647d" stroke-width="0.6"/>
<line x1="255.55" y1="666.3" x2="255.55" y2="669.3" stroke="#111" stroke-width="1.3" />
<line x1="252.45" y1="666.3" x2="258.65" y2="666.3" stroke="#111" stroke-width="1.6" />
<rect x="249.95" y="669.3" width="11.2" height="17.7" fill="#a50028" stroke="#85001f" stroke-width="0.6"/>
<polygon points="255.55,657.8 256.2,659.51 258.02,659.6 256.6,660.74 257.08,662.5 255.55,661.5 254.02,662.5 254.5,660.74 253.08,659.6 254.9,659.51" fill="#1a1a1a" stroke="#1a1a1a" stroke-width="0.4" stroke-linejoin="round"/>
<line x1="290.8" y1="680.6" x2="290.8" y2="681.4" stroke="#111" stroke-width="1.3" />
<line x1="287.7" y1="680.6" x2="293.9" y2="680.6" stroke="#111" stroke-width="1.6" />
<rect x="285.2" y="681.4" width="11.2" height="5.6" fill="#6b7c98" stroke="#56647d" stroke-width="0.6"/>
<rect x="296.4" y="686.3" width="11.2" height="0.7" fill="#a50028" stroke="#85001f" stroke-width="0.6"/>
<polygon points="302,678.8 302.65,680.51 304.47,680.6 303.05,681.74 303.53,683.5 302,682.5 300.47,683.5 300.95,681.74 299.53,680.6 301.35,680.51" fill="#1a1a1a" stroke="#1a1a1a" stroke-width="0.4" stroke-linejoin="round"/>
<line x1="337.25" y1="658.5" x2="337.25" y2="660.4" stroke="#111" stroke-width="1.3" />
<line x1="334.15" y1="658.5" x2="340.35" y2="658.5" stroke="#111" stroke-width="1.6" />
<rect x="331.65" y="660.4" width="11.2" height="26.6" fill="#6b7c98" stroke="#56647d" stroke-width="0.6"/>
<line x1="348.45" y1="679.6" x2="348.45" y2="680.9" stroke="#111" stroke-width="1.3" />
<line x1="345.35" y1="679.6" x2="351.55" y2="679.6" stroke="#111" stroke-width="1.6" />
<rect x="342.85" y="680.9" width="11.2" height="6.1" fill="#a50028" stroke="#85001f" stroke-width="0.6"/>
<polygon points="348.45,672.6 349.1,674.31 350.92,674.4 349.5,675.54 349.98,677.3 348.45,676.3 346.92,677.3 347.4,675.54 345.98,674.4 347.8,674.31" fill="#1a1a1a" stroke="#1a1a1a" stroke-width="0.4" stroke-linejoin="round"/>
<line x1="383.7" y1="597.5" x2="383.7" y2="600" stroke="#111" stroke-width="1.3" />
<line x1="380.6" y1="597.5" x2="386.8" y2="597.5" stroke="#111" stroke-width="1.6" />
<rect x="378.1" y="600" width="11.2" height="87" fill="#6b7c98" stroke="#56647d" stroke-width="0.6"/>
<line x1="394.9" y1="604.6" x2="394.9" y2="609.2" stroke="#111" stroke-width="1.3" />
<line x1="391.8" y1="604.6" x2="398" y2="604.6" stroke="#111" stroke-width="1.6" />
<rect x="389.3" y="609.2" width="11.2" height="77.8" fill="#a50028" stroke="#85001f" stroke-width="0.6"/>
<line x1="430.15" y1="645.2" x2="430.15" y2="649.2" stroke="#111" stroke-width="1.3" />
<line x1="427.05" y1="645.2" x2="433.25" y2="645.2" stroke="#111" stroke-width="1.6" />
<rect x="424.55" y="649.2" width="11.2" height="37.8" fill="#6b7c98" stroke="#56647d" stroke-width="0.6"/>
<line x1="441.35" y1="654.2" x2="441.35" y2="654.8" stroke="#111" stroke-width="1.3" />
<line x1="438.25" y1="654.2" x2="444.45" y2="654.2" stroke="#111" stroke-width="1.6" />
<rect x="435.75" y="654.8" width="11.2" height="32.2" fill="#a50028" stroke="#85001f" stroke-width="0.6"/>
<rect x="471" y="686.7" width="11.2" height="0.3" fill="#6b7c98" stroke="#56647d" stroke-width="0.6"/>
<rect x="482.2" y="686.8" width="11.2" height="0.2" fill="#a50028" stroke="#85001f" stroke-width="0.6"/>
<text transform="translate(37.9,640) rotate(-90) scale(0.86,1)" font-size="14.2" text-anchor="middle" fill="#1a1a1a" textLength="132.56" lengthAdjust="spacing">BCL2A1 expression</text>
<text transform="translate(55.4,638.1) rotate(-90) scale(0.86,1)" font-size="14.2" text-anchor="middle" fill="#1a1a1a" textLength="130.23" lengthAdjust="spacing">(fraction of control)</text>
<rect x="189" y="699.2" width="12" height="8.5" fill="#6b7c98"/>
<text x="208.8" y="707.7" font-size="11.3" text-anchor="start" font-weight="normal" fill="#1a1a1a" >DMSO</text>
<rect x="260.3" y="699.2" width="12" height="8.5" fill="#a50028"/>
<text x="281" y="707.7" font-size="11.3" text-anchor="start" font-weight="normal" fill="#1a1a1a" >Entospletinib (GS-9973)</text>
<rect x="0.75" y="0.75" width="518.5" height="718.5" fill="none" stroke="#000" stroke-width="1.5"/>
</svg>
</body></html>
